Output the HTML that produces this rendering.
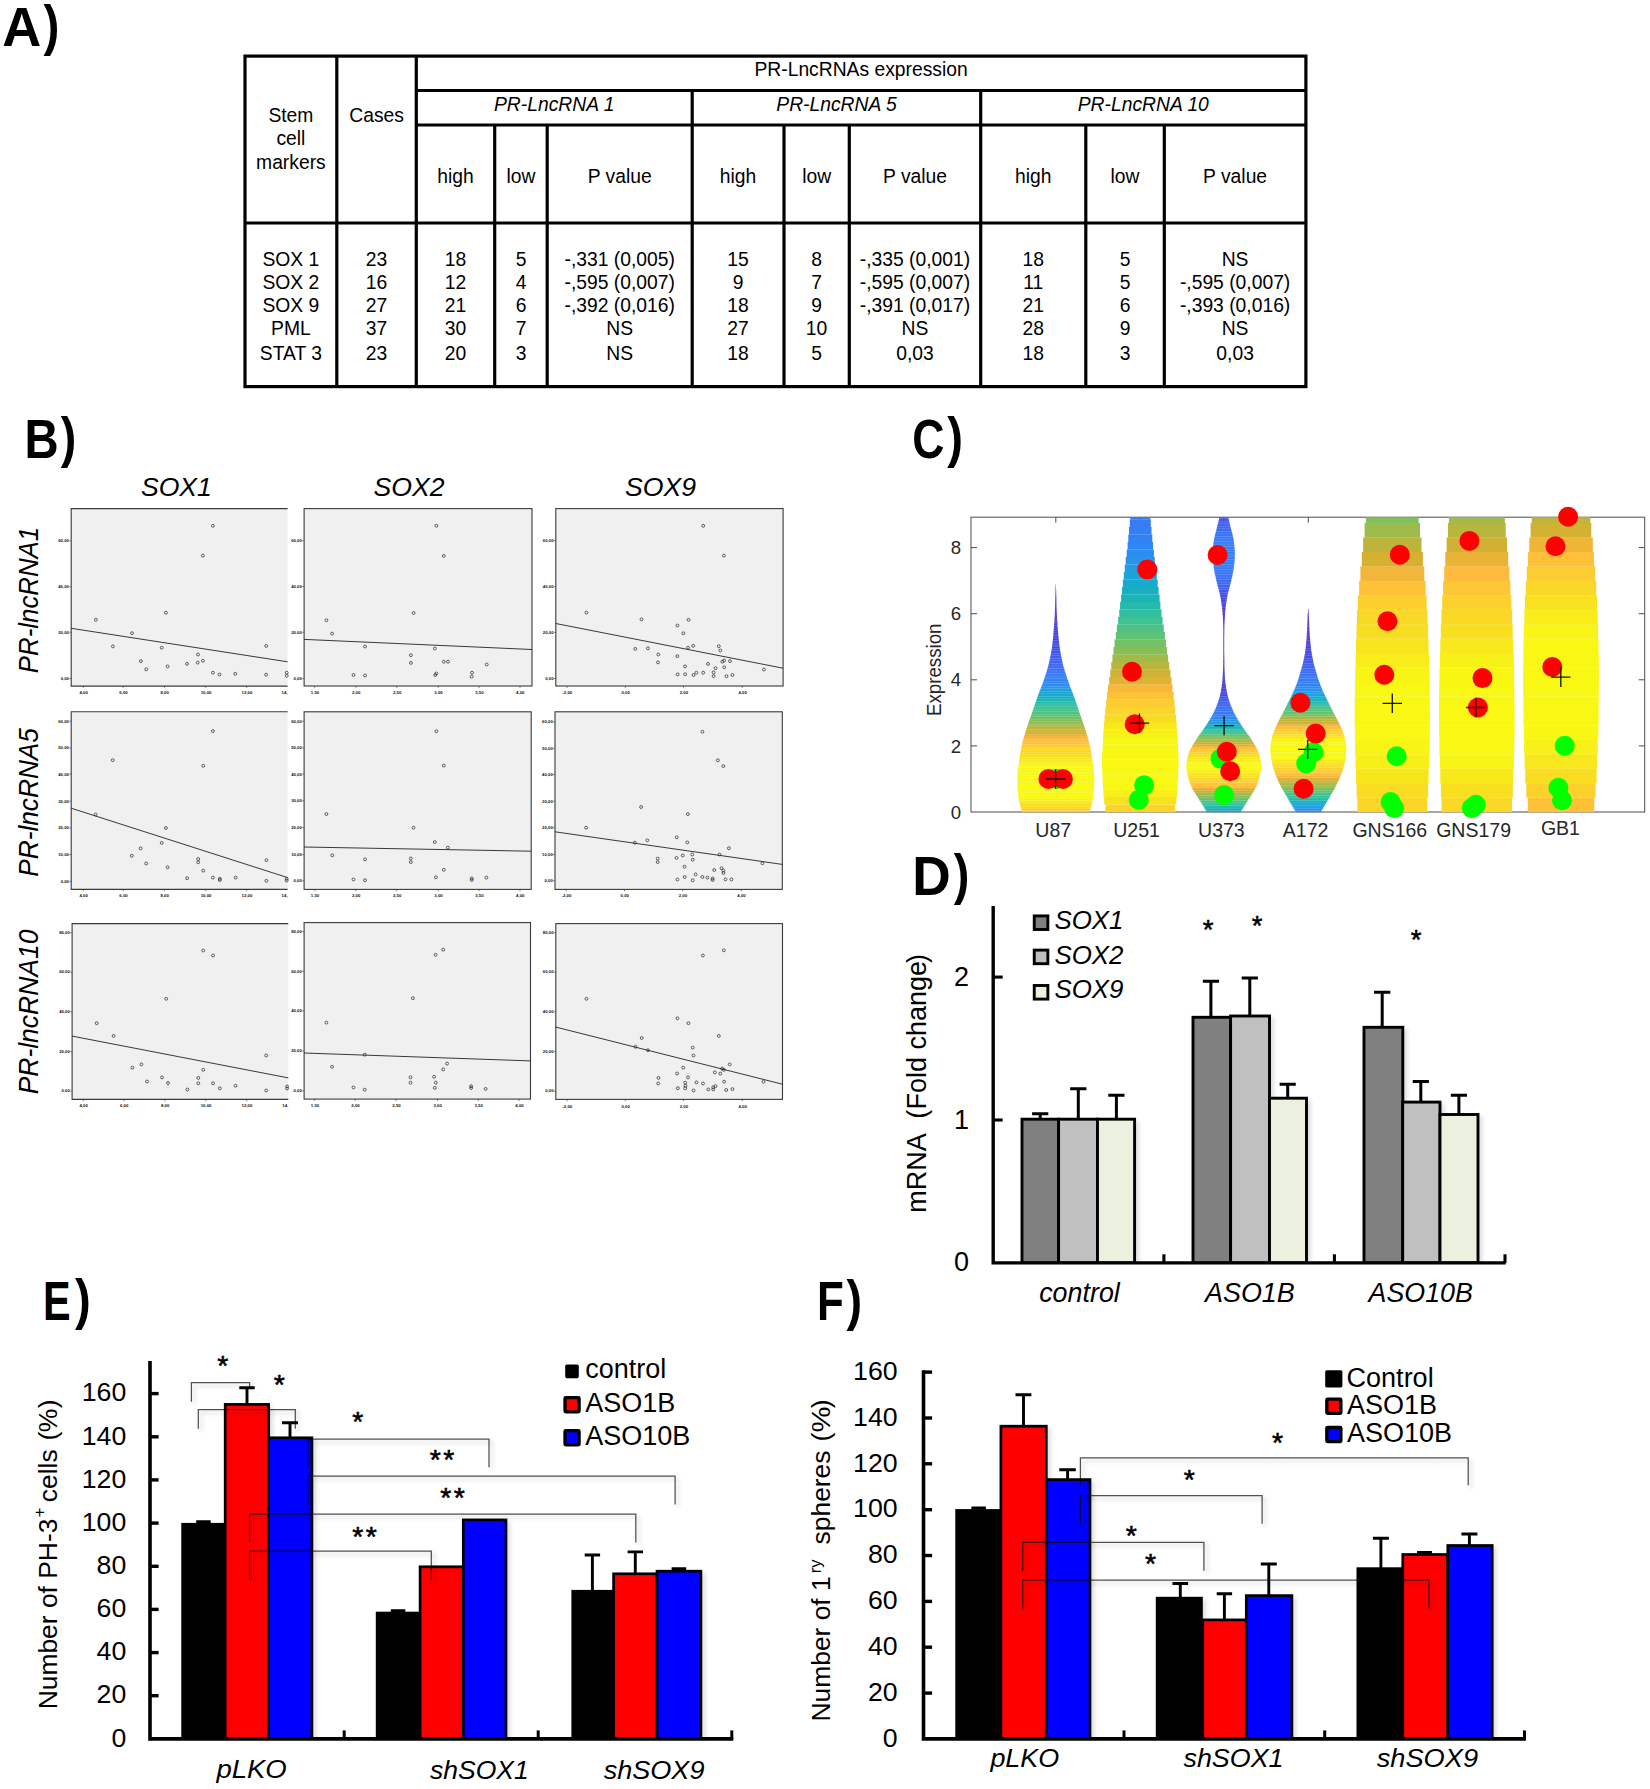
<!DOCTYPE html>
<html lang="en"><head><meta charset="utf-8"><title>Figure</title>
<style>html,body{margin:0;padding:0;background:#fff}svg{display:block}text{font-family:"Liberation Sans",sans-serif}</style></head><body>
<svg width="1650" height="1789" viewBox="0 0 1650 1789">
<rect width="1650" height="1789" fill="#fff"/>
<text font-size="55.0" font-weight="bold" transform="translate(2.25 45.5) scale(0.982 1)">A</text>
<text font-size="55.0" font-weight="bold" transform="translate(43.60 44.0) scale(0.867 1)">)</text>
<text font-size="55.0" font-weight="bold" transform="translate(24.43 457.6) scale(0.860 1)">B</text>
<text font-size="55.0" font-weight="bold" transform="translate(60.80 456.1) scale(0.848 1)">)</text>
<text font-size="55.0" font-weight="bold" transform="translate(912.27 457.9) scale(0.810 1)">C</text>
<text font-size="55.0" font-weight="bold" transform="translate(947.30 456.4) scale(0.861 1)">)</text>
<text font-size="55.0" font-weight="bold" transform="translate(912.33 894.5) scale(0.969 1)">D</text>
<text font-size="55.0" font-weight="bold" transform="translate(953.80 893.0) scale(0.854 1)">)</text>
<text font-size="55.0" font-weight="bold" transform="translate(43.12 1319.5) scale(0.753 1)">E</text>
<text font-size="55.0" font-weight="bold" transform="translate(75.00 1318.0) scale(0.861 1)">)</text>
<text font-size="55.0" font-weight="bold" transform="translate(816.96 1320.2) scale(0.798 1)">F</text>
<text font-size="55.0" font-weight="bold" transform="translate(846.50 1318.7) scale(0.854 1)">)</text>
<g id="tableA" stroke="#000" stroke-width="3.2" fill="none">
<rect x="245.0" y="56.1" width="1060.9" height="330.5"/>
<line x1="336.8" y1="56.1" x2="336.8" y2="386.6"/>
<line x1="416.3" y1="56.1" x2="416.3" y2="386.6"/>
<line x1="692.2" y1="90.5" x2="692.2" y2="386.6"/>
<line x1="980.7" y1="90.5" x2="980.7" y2="386.6"/>
<line x1="494.7" y1="125" x2="494.7" y2="386.6"/>
<line x1="547.2" y1="125" x2="547.2" y2="386.6"/>
<line x1="784.0" y1="125" x2="784.0" y2="386.6"/>
<line x1="849.3" y1="125" x2="849.3" y2="386.6"/>
<line x1="1085.8" y1="125" x2="1085.8" y2="386.6"/>
<line x1="1164.3" y1="125" x2="1164.3" y2="386.6"/>
<line x1="416.3" y1="90.5" x2="1305.9" y2="90.5"/>
<line x1="416.3" y1="125" x2="1305.9" y2="125"/>
<line x1="245.0" y1="223" x2="1305.9" y2="223"/>
</g>
<g id="tableText" font-size="19.3" text-anchor="middle">
<text x="290.9" y="121.9">Stem</text>
<text x="290.9" y="144.5">cell</text>
<text x="290.9" y="168.5">markers</text>
<text x="376.6" y="121.9">Cases</text>
<text x="861.1" y="75.9">PR-LncRNAs expression</text>
<text x="554.2" y="110.6" font-style="italic">PR-LncRNA 1</text>
<text x="836.5" y="110.6" font-style="italic">PR-LncRNA 5</text>
<text x="1143.3" y="110.6" font-style="italic">PR-LncRNA 10</text>
<text x="455.5" y="182.5">high</text>
<text x="521.0" y="182.5">low</text>
<text x="619.7" y="182.5">P value</text>
<text x="738.1" y="182.5">high</text>
<text x="816.6" y="182.5">low</text>
<text x="915.0" y="182.5">P value</text>
<text x="1033.2" y="182.5">high</text>
<text x="1125.0" y="182.5">low</text>
<text x="1235.1" y="182.5">P value</text>
<text x="290.9" y="265.6">SOX 1</text>
<text x="376.6" y="265.6">23</text>
<text x="455.5" y="265.6">18</text>
<text x="521.0" y="265.6">5</text>
<text x="619.7" y="265.6">-,331 (0,005)</text>
<text x="738.1" y="265.6">15</text>
<text x="816.6" y="265.6">8</text>
<text x="915.0" y="265.6">-,335 (0,001)</text>
<text x="1033.2" y="265.6">18</text>
<text x="1125.0" y="265.6">5</text>
<text x="1235.1" y="265.6">NS</text>
<text x="290.9" y="289.3">SOX 2</text>
<text x="376.6" y="289.3">16</text>
<text x="455.5" y="289.3">12</text>
<text x="521.0" y="289.3">4</text>
<text x="619.7" y="289.3">-,595 (0,007)</text>
<text x="738.1" y="289.3">9</text>
<text x="816.6" y="289.3">7</text>
<text x="915.0" y="289.3">-,595 (0,007)</text>
<text x="1033.2" y="289.3">11</text>
<text x="1125.0" y="289.3">5</text>
<text x="1235.1" y="289.3">-,595 (0,007)</text>
<text x="290.9" y="311.9">SOX 9</text>
<text x="376.6" y="311.9">27</text>
<text x="455.5" y="311.9">21</text>
<text x="521.0" y="311.9">6</text>
<text x="619.7" y="311.9">-,392 (0,016)</text>
<text x="738.1" y="311.9">18</text>
<text x="816.6" y="311.9">9</text>
<text x="915.0" y="311.9">-,391 (0,017)</text>
<text x="1033.2" y="311.9">21</text>
<text x="1125.0" y="311.9">6</text>
<text x="1235.1" y="311.9">-,393 (0,016)</text>
<text x="290.9" y="335.1">PML</text>
<text x="376.6" y="335.1">37</text>
<text x="455.5" y="335.1">30</text>
<text x="521.0" y="335.1">7</text>
<text x="619.7" y="335.1">NS</text>
<text x="738.1" y="335.1">27</text>
<text x="816.6" y="335.1">10</text>
<text x="915.0" y="335.1">NS</text>
<text x="1033.2" y="335.1">28</text>
<text x="1125.0" y="335.1">9</text>
<text x="1235.1" y="335.1">NS</text>
<text x="290.9" y="359.9">STAT 3</text>
<text x="376.6" y="359.9">23</text>
<text x="455.5" y="359.9">20</text>
<text x="521.0" y="359.9">3</text>
<text x="619.7" y="359.9">NS</text>
<text x="738.1" y="359.9">18</text>
<text x="816.6" y="359.9">5</text>
<text x="915.0" y="359.9">0,03</text>
<text x="1033.2" y="359.9">18</text>
<text x="1125.0" y="359.9">3</text>
<text x="1235.1" y="359.9">0,03</text>
</g>
<g id="panelB">
<rect x="71.2" y="508.6" width="216.4" height="177.4" fill="#f0f0f0"/>
<path d="M287.6 508.6H71.2V686.1H287.6" fill="none" stroke="#3a3a3a" stroke-width="1.1"/>
<line x1="71.2" y1="628.3" x2="287.6" y2="661.8" stroke="#222" stroke-width="0.9"/>
<g fill="none" stroke="#222" stroke-width="0.7">
<circle cx="212.9" cy="525.8" r="1.45"/>
<circle cx="202.9" cy="555.6" r="1.45"/>
<circle cx="165.9" cy="612.7" r="1.45"/>
<circle cx="95.9" cy="619.7" r="1.45"/>
<circle cx="132.0" cy="633.2" r="1.45"/>
<circle cx="112.9" cy="646.4" r="1.45"/>
<circle cx="161.7" cy="647.7" r="1.45"/>
<circle cx="266.2" cy="645.9" r="1.45"/>
<circle cx="198.0" cy="654.5" r="1.45"/>
<circle cx="140.9" cy="661.1" r="1.45"/>
<circle cx="202.9" cy="660.8" r="1.45"/>
<circle cx="197.7" cy="662.6" r="1.45"/>
<circle cx="187.0" cy="663.9" r="1.45"/>
<circle cx="167.6" cy="666.4" r="1.45"/>
<circle cx="146.2" cy="669.4" r="1.45"/>
<circle cx="212.9" cy="672.7" r="1.45"/>
<circle cx="219.5" cy="674.5" r="1.45"/>
<circle cx="235.2" cy="673.8" r="1.45"/>
<circle cx="266.1" cy="674.7" r="1.45"/>
<circle cx="286.7" cy="672.7" r="1.45"/>
<circle cx="286.7" cy="675.8" r="1.45"/>
</g>
<g font-size="4.3" font-weight="bold" fill="#111">
<line x1="69.4" y1="540.9" x2="71.2" y2="540.9" stroke="#333" stroke-width="0.6"/>
<text x="69.0" y="542.2" text-anchor="end">60,00</text>
<line x1="69.4" y1="586.8" x2="71.2" y2="586.8" stroke="#333" stroke-width="0.6"/>
<text x="69.0" y="588.1" text-anchor="end">40,00</text>
<line x1="69.4" y1="632.3" x2="71.2" y2="632.3" stroke="#333" stroke-width="0.6"/>
<text x="69.0" y="633.6" text-anchor="end">20,00</text>
<line x1="69.4" y1="678.5" x2="71.2" y2="678.5" stroke="#333" stroke-width="0.6"/>
<text x="69.0" y="679.8" text-anchor="end">0,00</text>
<line x1="83.3" y1="686.1" x2="83.3" y2="687.9" stroke="#333" stroke-width="0.6"/>
<text x="83.6" y="693.7" text-anchor="middle">4,00</text>
<line x1="123.2" y1="686.1" x2="123.2" y2="687.9" stroke="#333" stroke-width="0.6"/>
<text x="123.5" y="693.7" text-anchor="middle">6,00</text>
<line x1="164.4" y1="686.1" x2="164.4" y2="687.9" stroke="#333" stroke-width="0.6"/>
<text x="164.7" y="693.7" text-anchor="middle">8,00</text>
<line x1="205.8" y1="686.1" x2="205.8" y2="687.9" stroke="#333" stroke-width="0.6"/>
<text x="206.1" y="693.7" text-anchor="middle">10,00</text>
<line x1="246.7" y1="686.1" x2="246.7" y2="687.9" stroke="#333" stroke-width="0.6"/>
<text x="247.0" y="693.7" text-anchor="middle">12,00</text>
<text x="287.6" y="693.7" text-anchor="end">14,</text>
</g>
<rect x="304.1" y="508.6" width="227.9" height="177.4" fill="#f0f0f0"/>
<rect x="304.1" y="508.6" width="227.9" height="177.4" fill="none" stroke="#3a3a3a" stroke-width="1.1"/>
<line x1="304.1" y1="639.4" x2="532.0" y2="649.5" stroke="#222" stroke-width="0.9"/>
<g fill="none" stroke="#222" stroke-width="0.7">
<circle cx="436.4" cy="525.8" r="1.45"/>
<circle cx="443.8" cy="555.9" r="1.45"/>
<circle cx="413.6" cy="613.0" r="1.45"/>
<circle cx="326.4" cy="620.3" r="1.45"/>
<circle cx="332.1" cy="633.6" r="1.45"/>
<circle cx="365.0" cy="646.5" r="1.45"/>
<circle cx="434.8" cy="648.5" r="1.45"/>
<circle cx="410.9" cy="655.2" r="1.45"/>
<circle cx="443.8" cy="661.7" r="1.45"/>
<circle cx="448.0" cy="661.7" r="1.45"/>
<circle cx="410.9" cy="662.9" r="1.45"/>
<circle cx="486.7" cy="664.5" r="1.45"/>
<circle cx="353.5" cy="675.0" r="1.45"/>
<circle cx="365.0" cy="675.5" r="1.45"/>
<circle cx="436.4" cy="673.5" r="1.45"/>
<circle cx="435.2" cy="675.0" r="1.45"/>
<circle cx="472.0" cy="672.7" r="1.45"/>
<circle cx="471.7" cy="676.7" r="1.45"/>
</g>
<g font-size="4.3" font-weight="bold" fill="#111">
<line x1="302.3" y1="540.6" x2="304.1" y2="540.6" stroke="#333" stroke-width="0.6"/>
<text x="301.9" y="541.9" text-anchor="end">60,00</text>
<line x1="302.3" y1="586.4" x2="304.1" y2="586.4" stroke="#333" stroke-width="0.6"/>
<text x="301.9" y="587.7" text-anchor="end">40,00</text>
<line x1="302.3" y1="632.3" x2="304.1" y2="632.3" stroke="#333" stroke-width="0.6"/>
<text x="301.9" y="633.6" text-anchor="end">20,00</text>
<line x1="302.3" y1="678.5" x2="304.1" y2="678.5" stroke="#333" stroke-width="0.6"/>
<text x="301.9" y="679.8" text-anchor="end">0,00</text>
<line x1="314.7" y1="686.1" x2="314.7" y2="687.9" stroke="#333" stroke-width="0.6"/>
<text x="315.0" y="694.0" text-anchor="middle">1,50</text>
<line x1="355.9" y1="686.1" x2="355.9" y2="687.9" stroke="#333" stroke-width="0.6"/>
<text x="356.2" y="694.0" text-anchor="middle">2,00</text>
<line x1="396.8" y1="686.1" x2="396.8" y2="687.9" stroke="#333" stroke-width="0.6"/>
<text x="397.1" y="694.0" text-anchor="middle">2,50</text>
<line x1="438.2" y1="686.1" x2="438.2" y2="687.9" stroke="#333" stroke-width="0.6"/>
<text x="438.5" y="694.0" text-anchor="middle">3,00</text>
<line x1="479.1" y1="686.1" x2="479.1" y2="687.9" stroke="#333" stroke-width="0.6"/>
<text x="479.4" y="694.0" text-anchor="middle">3,50</text>
<line x1="520.0" y1="686.1" x2="520.0" y2="687.9" stroke="#333" stroke-width="0.6"/>
<text x="520.3" y="694.0" text-anchor="middle">4,00</text>
</g>
<rect x="555.8" y="508.6" width="227.3" height="177.4" fill="#f0f0f0"/>
<rect x="555.8" y="508.6" width="227.3" height="177.4" fill="none" stroke="#3a3a3a" stroke-width="1.1"/>
<line x1="555.8" y1="623.5" x2="783.0" y2="668.2" stroke="#222" stroke-width="0.9"/>
<g fill="none" stroke="#222" stroke-width="0.7">
<circle cx="703.2" cy="525.8" r="1.45"/>
<circle cx="723.9" cy="555.6" r="1.45"/>
<circle cx="586.4" cy="612.6" r="1.45"/>
<circle cx="641.5" cy="619.4" r="1.45"/>
<circle cx="688.6" cy="619.8" r="1.45"/>
<circle cx="677.4" cy="625.5" r="1.45"/>
<circle cx="683.3" cy="633.3" r="1.45"/>
<circle cx="693.2" cy="645.8" r="1.45"/>
<circle cx="718.8" cy="646.2" r="1.45"/>
<circle cx="688.0" cy="647.7" r="1.45"/>
<circle cx="635.3" cy="648.9" r="1.45"/>
<circle cx="647.9" cy="648.3" r="1.45"/>
<circle cx="720.3" cy="650.5" r="1.45"/>
<circle cx="658.3" cy="654.5" r="1.45"/>
<circle cx="677.3" cy="656.1" r="1.45"/>
<circle cx="724.1" cy="660.6" r="1.45"/>
<circle cx="722.3" cy="661.7" r="1.45"/>
<circle cx="730.0" cy="661.1" r="1.45"/>
<circle cx="658.0" cy="662.4" r="1.45"/>
<circle cx="708.0" cy="663.9" r="1.45"/>
<circle cx="685.0" cy="666.4" r="1.45"/>
<circle cx="724.2" cy="667.3" r="1.45"/>
<circle cx="715.5" cy="668.2" r="1.45"/>
<circle cx="763.9" cy="669.5" r="1.45"/>
<circle cx="696.4" cy="672.7" r="1.45"/>
<circle cx="703.2" cy="672.7" r="1.45"/>
<circle cx="713.6" cy="672.4" r="1.45"/>
<circle cx="677.7" cy="674.4" r="1.45"/>
<circle cx="685.2" cy="674.2" r="1.45"/>
<circle cx="693.5" cy="675.0" r="1.45"/>
<circle cx="713.6" cy="676.1" r="1.45"/>
<circle cx="726.5" cy="676.2" r="1.45"/>
<circle cx="732.4" cy="675.0" r="1.45"/>
</g>
<g font-size="4.3" font-weight="bold" fill="#111">
<line x1="554.0" y1="540.6" x2="555.8" y2="540.6" stroke="#333" stroke-width="0.6"/>
<text x="553.6" y="541.9" text-anchor="end">60,00</text>
<line x1="554.0" y1="586.7" x2="555.8" y2="586.7" stroke="#333" stroke-width="0.6"/>
<text x="553.6" y="588.0" text-anchor="end">40,00</text>
<line x1="554.0" y1="632.3" x2="555.8" y2="632.3" stroke="#333" stroke-width="0.6"/>
<text x="553.6" y="633.6" text-anchor="end">20,00</text>
<line x1="554.0" y1="678.5" x2="555.8" y2="678.5" stroke="#333" stroke-width="0.6"/>
<text x="553.6" y="679.8" text-anchor="end">0,00</text>
<line x1="567.0" y1="686.1" x2="567.0" y2="687.9" stroke="#333" stroke-width="0.6"/>
<text x="567.3" y="694.0" text-anchor="middle">-2,00</text>
<line x1="625.3" y1="686.1" x2="625.3" y2="687.9" stroke="#333" stroke-width="0.6"/>
<text x="625.6" y="694.0" text-anchor="middle">0,00</text>
<line x1="683.6" y1="686.1" x2="683.6" y2="687.9" stroke="#333" stroke-width="0.6"/>
<text x="683.9" y="694.0" text-anchor="middle">2,00</text>
<line x1="742.3" y1="686.1" x2="742.3" y2="687.9" stroke="#333" stroke-width="0.6"/>
<text x="742.6" y="694.0" text-anchor="middle">4,00</text>
</g>
<rect x="71.2" y="711.8" width="216.4" height="177.6" fill="#f0f0f0"/>
<path d="M287.6 711.8H71.2V889.4H287.6" fill="none" stroke="#3a3a3a" stroke-width="1.1"/>
<line x1="71.2" y1="808.2" x2="287.6" y2="877.6" stroke="#222" stroke-width="0.9"/>
<g fill="none" stroke="#222" stroke-width="0.7">
<circle cx="212.9" cy="731.1" r="1.45"/>
<circle cx="112.7" cy="760.2" r="1.45"/>
<circle cx="203.2" cy="765.8" r="1.45"/>
<circle cx="95.6" cy="814.5" r="1.45"/>
<circle cx="165.9" cy="828.0" r="1.45"/>
<circle cx="161.7" cy="842.9" r="1.45"/>
<circle cx="140.6" cy="848.3" r="1.45"/>
<circle cx="131.8" cy="855.8" r="1.45"/>
<circle cx="198.2" cy="859.1" r="1.45"/>
<circle cx="266.4" cy="860.2" r="1.45"/>
<circle cx="198.2" cy="862.3" r="1.45"/>
<circle cx="146.2" cy="863.5" r="1.45"/>
<circle cx="167.6" cy="867.3" r="1.45"/>
<circle cx="203.2" cy="870.6" r="1.45"/>
<circle cx="187.1" cy="878.2" r="1.45"/>
<circle cx="212.9" cy="877.6" r="1.45"/>
<circle cx="219.8" cy="878.8" r="1.45"/>
<circle cx="219.8" cy="880.0" r="1.45"/>
<circle cx="235.6" cy="877.6" r="1.45"/>
<circle cx="266.4" cy="880.8" r="1.45"/>
<circle cx="286.7" cy="878.8" r="1.45"/>
<circle cx="286.7" cy="880.6" r="1.45"/>
</g>
<g font-size="4.3" font-weight="bold" fill="#111">
<line x1="69.4" y1="721.2" x2="71.2" y2="721.2" stroke="#333" stroke-width="0.6"/>
<text x="69.0" y="722.5" text-anchor="end">60,00</text>
<line x1="69.4" y1="747.9" x2="71.2" y2="747.9" stroke="#333" stroke-width="0.6"/>
<text x="69.0" y="749.2" text-anchor="end">50,00</text>
<line x1="69.4" y1="774.2" x2="71.2" y2="774.2" stroke="#333" stroke-width="0.6"/>
<text x="69.0" y="775.5" text-anchor="end">40,00</text>
<line x1="69.4" y1="801.2" x2="71.2" y2="801.2" stroke="#333" stroke-width="0.6"/>
<text x="69.0" y="802.5" text-anchor="end">30,00</text>
<line x1="69.4" y1="828.0" x2="71.2" y2="828.0" stroke="#333" stroke-width="0.6"/>
<text x="69.0" y="829.3" text-anchor="end">20,00</text>
<line x1="69.4" y1="854.5" x2="71.2" y2="854.5" stroke="#333" stroke-width="0.6"/>
<text x="69.0" y="855.8" text-anchor="end">10,00</text>
<line x1="69.4" y1="881.4" x2="71.2" y2="881.4" stroke="#333" stroke-width="0.6"/>
<text x="69.0" y="882.7" text-anchor="end">0,00</text>
<line x1="83.3" y1="889.4" x2="83.3" y2="891.2" stroke="#333" stroke-width="0.6"/>
<text x="83.6" y="897.1" text-anchor="middle">4,00</text>
<line x1="123.2" y1="889.4" x2="123.2" y2="891.2" stroke="#333" stroke-width="0.6"/>
<text x="123.5" y="897.1" text-anchor="middle">6,00</text>
<line x1="164.4" y1="889.4" x2="164.4" y2="891.2" stroke="#333" stroke-width="0.6"/>
<text x="164.7" y="897.1" text-anchor="middle">8,00</text>
<line x1="205.8" y1="889.4" x2="205.8" y2="891.2" stroke="#333" stroke-width="0.6"/>
<text x="206.1" y="897.1" text-anchor="middle">10,00</text>
<line x1="246.7" y1="889.4" x2="246.7" y2="891.2" stroke="#333" stroke-width="0.6"/>
<text x="247.0" y="897.1" text-anchor="middle">12,00</text>
<text x="287.6" y="897.1" text-anchor="end">14,</text>
</g>
<rect x="304.1" y="711.8" width="227.1" height="177.6" fill="#f0f0f0"/>
<rect x="304.1" y="711.8" width="227.1" height="177.6" fill="none" stroke="#3a3a3a" stroke-width="1.1"/>
<line x1="304.1" y1="847.0" x2="531.2" y2="851.2" stroke="#222" stroke-width="0.9"/>
<g fill="none" stroke="#222" stroke-width="0.7">
<circle cx="436.4" cy="731.2" r="1.45"/>
<circle cx="443.8" cy="765.6" r="1.45"/>
<circle cx="326.4" cy="814.1" r="1.45"/>
<circle cx="413.5" cy="827.7" r="1.45"/>
<circle cx="434.8" cy="842.1" r="1.45"/>
<circle cx="447.9" cy="847.7" r="1.45"/>
<circle cx="332.3" cy="855.3" r="1.45"/>
<circle cx="365.0" cy="859.4" r="1.45"/>
<circle cx="410.8" cy="858.5" r="1.45"/>
<circle cx="410.8" cy="862.1" r="1.45"/>
<circle cx="443.8" cy="869.8" r="1.45"/>
<circle cx="353.5" cy="879.4" r="1.45"/>
<circle cx="365.0" cy="880.2" r="1.45"/>
<circle cx="435.9" cy="877.3" r="1.45"/>
<circle cx="471.7" cy="878.5" r="1.45"/>
<circle cx="471.7" cy="880.0" r="1.45"/>
<circle cx="486.4" cy="877.6" r="1.45"/>
</g>
<g font-size="4.3" font-weight="bold" fill="#111">
<line x1="302.3" y1="721.2" x2="304.1" y2="721.2" stroke="#333" stroke-width="0.6"/>
<text x="301.9" y="722.5" text-anchor="end">60,00</text>
<line x1="302.3" y1="747.9" x2="304.1" y2="747.9" stroke="#333" stroke-width="0.6"/>
<text x="301.9" y="749.2" text-anchor="end">50,00</text>
<line x1="302.3" y1="774.2" x2="304.1" y2="774.2" stroke="#333" stroke-width="0.6"/>
<text x="301.9" y="775.5" text-anchor="end">40,00</text>
<line x1="302.3" y1="800.8" x2="304.1" y2="800.8" stroke="#333" stroke-width="0.6"/>
<text x="301.9" y="802.1" text-anchor="end">30,00</text>
<line x1="302.3" y1="827.7" x2="304.1" y2="827.7" stroke="#333" stroke-width="0.6"/>
<text x="301.9" y="829.0" text-anchor="end">20,00</text>
<line x1="302.3" y1="854.5" x2="304.1" y2="854.5" stroke="#333" stroke-width="0.6"/>
<text x="301.9" y="855.8" text-anchor="end">10,00</text>
<line x1="302.3" y1="880.8" x2="304.1" y2="880.8" stroke="#333" stroke-width="0.6"/>
<text x="301.9" y="882.1" text-anchor="end">0,00</text>
<line x1="314.7" y1="889.4" x2="314.7" y2="891.2" stroke="#333" stroke-width="0.6"/>
<text x="315.0" y="897.1" text-anchor="middle">1,50</text>
<line x1="355.9" y1="889.4" x2="355.9" y2="891.2" stroke="#333" stroke-width="0.6"/>
<text x="356.2" y="897.1" text-anchor="middle">2,00</text>
<line x1="396.8" y1="889.4" x2="396.8" y2="891.2" stroke="#333" stroke-width="0.6"/>
<text x="397.1" y="897.1" text-anchor="middle">2,50</text>
<line x1="438.2" y1="889.4" x2="438.2" y2="891.2" stroke="#333" stroke-width="0.6"/>
<text x="438.5" y="897.1" text-anchor="middle">3,00</text>
<line x1="479.1" y1="889.4" x2="479.1" y2="891.2" stroke="#333" stroke-width="0.6"/>
<text x="479.4" y="897.1" text-anchor="middle">3,50</text>
<line x1="520.0" y1="889.4" x2="520.0" y2="891.2" stroke="#333" stroke-width="0.6"/>
<text x="520.3" y="897.1" text-anchor="middle">4,00</text>
</g>
<rect x="555.0" y="711.8" width="227.3" height="177.6" fill="#f0f0f0"/>
<rect x="555.0" y="711.8" width="227.3" height="177.6" fill="none" stroke="#3a3a3a" stroke-width="1.1"/>
<line x1="555.0" y1="831.8" x2="782.3" y2="864.4" stroke="#222" stroke-width="0.9"/>
<g fill="none" stroke="#222" stroke-width="0.7">
<circle cx="702.4" cy="731.7" r="1.45"/>
<circle cx="717.9" cy="760.3" r="1.45"/>
<circle cx="723.3" cy="766.1" r="1.45"/>
<circle cx="641.1" cy="807.0" r="1.45"/>
<circle cx="687.9" cy="814.1" r="1.45"/>
<circle cx="586.1" cy="827.7" r="1.45"/>
<circle cx="676.8" cy="837.3" r="1.45"/>
<circle cx="647.3" cy="840.3" r="1.45"/>
<circle cx="687.3" cy="842.4" r="1.45"/>
<circle cx="634.8" cy="842.7" r="1.45"/>
<circle cx="728.9" cy="848.2" r="1.45"/>
<circle cx="692.3" cy="854.5" r="1.45"/>
<circle cx="719.5" cy="854.5" r="1.45"/>
<circle cx="682.7" cy="855.5" r="1.45"/>
<circle cx="676.5" cy="857.9" r="1.45"/>
<circle cx="657.7" cy="858.6" r="1.45"/>
<circle cx="692.7" cy="859.7" r="1.45"/>
<circle cx="657.7" cy="862.1" r="1.45"/>
<circle cx="762.4" cy="863.3" r="1.45"/>
<circle cx="684.5" cy="866.7" r="1.45"/>
<circle cx="721.5" cy="868.2" r="1.45"/>
<circle cx="714.2" cy="870.0" r="1.45"/>
<circle cx="723.3" cy="870.5" r="1.45"/>
<circle cx="723.5" cy="873.0" r="1.45"/>
<circle cx="695.6" cy="874.4" r="1.45"/>
<circle cx="684.7" cy="877.0" r="1.45"/>
<circle cx="702.4" cy="877.0" r="1.45"/>
<circle cx="707.4" cy="877.6" r="1.45"/>
<circle cx="712.6" cy="878.5" r="1.45"/>
<circle cx="712.6" cy="880.0" r="1.45"/>
<circle cx="677.4" cy="879.5" r="1.45"/>
<circle cx="692.7" cy="880.3" r="1.45"/>
<circle cx="725.5" cy="879.4" r="1.45"/>
<circle cx="731.5" cy="879.4" r="1.45"/>
</g>
<g font-size="4.3" font-weight="bold" fill="#111">
<line x1="553.2" y1="722.1" x2="555.0" y2="722.1" stroke="#333" stroke-width="0.6"/>
<text x="552.8" y="723.4" text-anchor="end">60,00</text>
<line x1="553.2" y1="748.2" x2="555.0" y2="748.2" stroke="#333" stroke-width="0.6"/>
<text x="552.8" y="749.5" text-anchor="end">50,00</text>
<line x1="553.2" y1="774.5" x2="555.0" y2="774.5" stroke="#333" stroke-width="0.6"/>
<text x="552.8" y="775.8" text-anchor="end">40,00</text>
<line x1="553.2" y1="801.2" x2="555.0" y2="801.2" stroke="#333" stroke-width="0.6"/>
<text x="552.8" y="802.5" text-anchor="end">30,00</text>
<line x1="553.2" y1="827.7" x2="555.0" y2="827.7" stroke="#333" stroke-width="0.6"/>
<text x="552.8" y="829.0" text-anchor="end">20,00</text>
<line x1="553.2" y1="854.5" x2="555.0" y2="854.5" stroke="#333" stroke-width="0.6"/>
<text x="552.8" y="855.8" text-anchor="end">10,00</text>
<line x1="553.2" y1="880.8" x2="555.0" y2="880.8" stroke="#333" stroke-width="0.6"/>
<text x="552.8" y="882.1" text-anchor="end">0,00</text>
<line x1="566.2" y1="889.4" x2="566.2" y2="891.2" stroke="#333" stroke-width="0.6"/>
<text x="566.5" y="897.1" text-anchor="middle">-2,00</text>
<line x1="624.5" y1="889.4" x2="624.5" y2="891.2" stroke="#333" stroke-width="0.6"/>
<text x="624.8" y="897.1" text-anchor="middle">0,00</text>
<line x1="682.6" y1="889.4" x2="682.6" y2="891.2" stroke="#333" stroke-width="0.6"/>
<text x="682.9" y="897.1" text-anchor="middle">2,00</text>
<line x1="741.2" y1="889.4" x2="741.2" y2="891.2" stroke="#333" stroke-width="0.6"/>
<text x="741.5" y="897.1" text-anchor="middle">4,00</text>
</g>
<rect x="72.1" y="923.6" width="216.2" height="175.8" fill="#f0f0f0"/>
<path d="M288.3 923.6H72.1V1099.4H288.3" fill="none" stroke="#3a3a3a" stroke-width="1.1"/>
<line x1="72.1" y1="1036.1" x2="288.3" y2="1077.9" stroke="#222" stroke-width="0.9"/>
<g fill="none" stroke="#222" stroke-width="0.7">
<circle cx="203.2" cy="950.5" r="1.45"/>
<circle cx="213.0" cy="955.5" r="1.45"/>
<circle cx="166.2" cy="998.8" r="1.45"/>
<circle cx="96.7" cy="1023.2" r="1.45"/>
<circle cx="113.6" cy="1035.9" r="1.45"/>
<circle cx="266.2" cy="1055.5" r="1.45"/>
<circle cx="141.4" cy="1064.4" r="1.45"/>
<circle cx="132.4" cy="1067.6" r="1.45"/>
<circle cx="203.2" cy="1069.8" r="1.45"/>
<circle cx="162.0" cy="1077.4" r="1.45"/>
<circle cx="198.3" cy="1077.9" r="1.45"/>
<circle cx="147.0" cy="1081.5" r="1.45"/>
<circle cx="168.0" cy="1083.0" r="1.45"/>
<circle cx="198.3" cy="1083.3" r="1.45"/>
<circle cx="213.0" cy="1083.3" r="1.45"/>
<circle cx="235.5" cy="1085.8" r="1.45"/>
<circle cx="219.8" cy="1088.3" r="1.45"/>
<circle cx="187.4" cy="1089.5" r="1.45"/>
<circle cx="266.2" cy="1090.5" r="1.45"/>
<circle cx="287.1" cy="1086.5" r="1.45"/>
<circle cx="287.1" cy="1088.5" r="1.45"/>
</g>
<g font-size="4.3" font-weight="bold" fill="#111">
<line x1="70.3" y1="932.7" x2="72.1" y2="932.7" stroke="#333" stroke-width="0.6"/>
<text x="69.9" y="934.0" text-anchor="end">80,00</text>
<line x1="70.3" y1="972.1" x2="72.1" y2="972.1" stroke="#333" stroke-width="0.6"/>
<text x="69.9" y="973.4" text-anchor="end">60,00</text>
<line x1="70.3" y1="1011.8" x2="72.1" y2="1011.8" stroke="#333" stroke-width="0.6"/>
<text x="69.9" y="1013.1" text-anchor="end">40,00</text>
<line x1="70.3" y1="1051.7" x2="72.1" y2="1051.7" stroke="#333" stroke-width="0.6"/>
<text x="69.9" y="1053.0" text-anchor="end">20,00</text>
<line x1="70.3" y1="1091.1" x2="72.1" y2="1091.1" stroke="#333" stroke-width="0.6"/>
<text x="69.9" y="1092.4" text-anchor="end">0,00</text>
<line x1="83.3" y1="1099.4" x2="83.3" y2="1101.2" stroke="#333" stroke-width="0.6"/>
<text x="83.6" y="1107.1" text-anchor="middle">4,00</text>
<line x1="123.9" y1="1099.4" x2="123.9" y2="1101.2" stroke="#333" stroke-width="0.6"/>
<text x="124.2" y="1107.1" text-anchor="middle">6,00</text>
<line x1="164.9" y1="1099.4" x2="164.9" y2="1101.2" stroke="#333" stroke-width="0.6"/>
<text x="165.2" y="1107.1" text-anchor="middle">8,00</text>
<line x1="205.8" y1="1099.4" x2="205.8" y2="1101.2" stroke="#333" stroke-width="0.6"/>
<text x="206.1" y="1107.1" text-anchor="middle">10,00</text>
<line x1="246.7" y1="1099.4" x2="246.7" y2="1101.2" stroke="#333" stroke-width="0.6"/>
<text x="247.0" y="1107.1" text-anchor="middle">12,00</text>
<text x="288.3" y="1107.1" text-anchor="end">14,</text>
</g>
<rect x="304.1" y="922.6" width="226.4" height="176.5" fill="#f0f0f0"/>
<rect x="304.1" y="922.6" width="226.4" height="176.5" fill="none" stroke="#3a3a3a" stroke-width="1.1"/>
<line x1="304.1" y1="1053.0" x2="530.5" y2="1060.9" stroke="#222" stroke-width="0.9"/>
<g fill="none" stroke="#222" stroke-width="0.7">
<circle cx="443.2" cy="949.7" r="1.45"/>
<circle cx="435.6" cy="954.8" r="1.45"/>
<circle cx="412.9" cy="998.2" r="1.45"/>
<circle cx="326.4" cy="1022.6" r="1.45"/>
<circle cx="364.7" cy="1054.7" r="1.45"/>
<circle cx="447.1" cy="1063.6" r="1.45"/>
<circle cx="332.1" cy="1066.8" r="1.45"/>
<circle cx="443.2" cy="1069.4" r="1.45"/>
<circle cx="410.5" cy="1077.3" r="1.45"/>
<circle cx="434.1" cy="1076.8" r="1.45"/>
<circle cx="410.5" cy="1082.7" r="1.45"/>
<circle cx="435.8" cy="1082.6" r="1.45"/>
<circle cx="353.5" cy="1087.4" r="1.45"/>
<circle cx="364.7" cy="1089.7" r="1.45"/>
<circle cx="434.8" cy="1087.9" r="1.45"/>
<circle cx="471.1" cy="1086.2" r="1.45"/>
<circle cx="471.1" cy="1088.0" r="1.45"/>
<circle cx="485.6" cy="1088.9" r="1.45"/>
</g>
<g font-size="4.3" font-weight="bold" fill="#111">
<line x1="302.3" y1="931.7" x2="304.1" y2="931.7" stroke="#333" stroke-width="0.6"/>
<text x="301.9" y="933.0" text-anchor="end">80,00</text>
<line x1="302.3" y1="971.4" x2="304.1" y2="971.4" stroke="#333" stroke-width="0.6"/>
<text x="301.9" y="972.7" text-anchor="end">60,00</text>
<line x1="302.3" y1="1010.8" x2="304.1" y2="1010.8" stroke="#333" stroke-width="0.6"/>
<text x="301.9" y="1012.1" text-anchor="end">40,00</text>
<line x1="302.3" y1="1050.9" x2="304.1" y2="1050.9" stroke="#333" stroke-width="0.6"/>
<text x="301.9" y="1052.2" text-anchor="end">20,00</text>
<line x1="302.3" y1="1090.8" x2="304.1" y2="1090.8" stroke="#333" stroke-width="0.6"/>
<text x="301.9" y="1092.1" text-anchor="end">0,00</text>
<line x1="314.7" y1="1099.1" x2="314.7" y2="1100.9" stroke="#333" stroke-width="0.6"/>
<text x="315.0" y="1106.8" text-anchor="middle">1,50</text>
<line x1="355.2" y1="1099.1" x2="355.2" y2="1100.9" stroke="#333" stroke-width="0.6"/>
<text x="355.5" y="1106.8" text-anchor="middle">2,00</text>
<line x1="396.2" y1="1099.1" x2="396.2" y2="1100.9" stroke="#333" stroke-width="0.6"/>
<text x="396.5" y="1106.8" text-anchor="middle">2,50</text>
<line x1="437.4" y1="1099.1" x2="437.4" y2="1100.9" stroke="#333" stroke-width="0.6"/>
<text x="437.7" y="1106.8" text-anchor="middle">3,00</text>
<line x1="478.3" y1="1099.1" x2="478.3" y2="1100.9" stroke="#333" stroke-width="0.6"/>
<text x="478.6" y="1106.8" text-anchor="middle">3,50</text>
<line x1="519.2" y1="1099.1" x2="519.2" y2="1100.9" stroke="#333" stroke-width="0.6"/>
<text x="519.5" y="1106.8" text-anchor="middle">4,00</text>
</g>
<rect x="555.8" y="923.6" width="226.7" height="175.8" fill="#f0f0f0"/>
<rect x="555.8" y="923.6" width="226.7" height="175.8" fill="none" stroke="#3a3a3a" stroke-width="1.1"/>
<line x1="555.8" y1="1027.1" x2="782.4" y2="1084.2" stroke="#222" stroke-width="0.9"/>
<g fill="none" stroke="#222" stroke-width="0.7">
<circle cx="723.8" cy="950.3" r="1.45"/>
<circle cx="702.9" cy="955.5" r="1.45"/>
<circle cx="586.5" cy="998.8" r="1.45"/>
<circle cx="677.4" cy="1018.3" r="1.45"/>
<circle cx="688.5" cy="1023.2" r="1.45"/>
<circle cx="718.8" cy="1035.9" r="1.45"/>
<circle cx="641.7" cy="1038.0" r="1.45"/>
<circle cx="692.7" cy="1047.6" r="1.45"/>
<circle cx="635.5" cy="1046.8" r="1.45"/>
<circle cx="647.9" cy="1050.2" r="1.45"/>
<circle cx="693.5" cy="1055.5" r="1.45"/>
<circle cx="729.7" cy="1064.4" r="1.45"/>
<circle cx="683.2" cy="1067.6" r="1.45"/>
<circle cx="722.1" cy="1068.6" r="1.45"/>
<circle cx="723.8" cy="1069.8" r="1.45"/>
<circle cx="714.8" cy="1072.4" r="1.45"/>
<circle cx="720.3" cy="1073.6" r="1.45"/>
<circle cx="677.1" cy="1073.5" r="1.45"/>
<circle cx="658.5" cy="1077.9" r="1.45"/>
<circle cx="688.0" cy="1077.4" r="1.45"/>
<circle cx="724.1" cy="1081.7" r="1.45"/>
<circle cx="763.5" cy="1081.7" r="1.45"/>
<circle cx="696.5" cy="1082.4" r="1.45"/>
<circle cx="658.2" cy="1083.5" r="1.45"/>
<circle cx="685.2" cy="1082.7" r="1.45"/>
<circle cx="703.0" cy="1083.5" r="1.45"/>
<circle cx="715.5" cy="1086.2" r="1.45"/>
<circle cx="713.2" cy="1087.3" r="1.45"/>
<circle cx="685.5" cy="1085.8" r="1.45"/>
<circle cx="677.9" cy="1088.2" r="1.45"/>
<circle cx="685.2" cy="1088.3" r="1.45"/>
<circle cx="708.3" cy="1089.4" r="1.45"/>
<circle cx="713.2" cy="1089.4" r="1.45"/>
<circle cx="693.5" cy="1090.5" r="1.45"/>
<circle cx="726.2" cy="1090.0" r="1.45"/>
<circle cx="732.4" cy="1089.1" r="1.45"/>
</g>
<g font-size="4.3" font-weight="bold" fill="#111">
<line x1="554.0" y1="932.7" x2="555.8" y2="932.7" stroke="#333" stroke-width="0.6"/>
<text x="553.6" y="934.0" text-anchor="end">80,00</text>
<line x1="554.0" y1="972.1" x2="555.8" y2="972.1" stroke="#333" stroke-width="0.6"/>
<text x="553.6" y="973.4" text-anchor="end">60,00</text>
<line x1="554.0" y1="1011.8" x2="555.8" y2="1011.8" stroke="#333" stroke-width="0.6"/>
<text x="553.6" y="1013.1" text-anchor="end">40,00</text>
<line x1="554.0" y1="1051.7" x2="555.8" y2="1051.7" stroke="#333" stroke-width="0.6"/>
<text x="553.6" y="1053.0" text-anchor="end">20,00</text>
<line x1="554.0" y1="1091.1" x2="555.8" y2="1091.1" stroke="#333" stroke-width="0.6"/>
<text x="553.6" y="1092.4" text-anchor="end">0,00</text>
<line x1="567.0" y1="1099.4" x2="567.0" y2="1101.2" stroke="#333" stroke-width="0.6"/>
<text x="567.3" y="1107.5" text-anchor="middle">-2,00</text>
<line x1="625.3" y1="1099.4" x2="625.3" y2="1101.2" stroke="#333" stroke-width="0.6"/>
<text x="625.6" y="1107.5" text-anchor="middle">0,00</text>
<line x1="683.6" y1="1099.4" x2="683.6" y2="1101.2" stroke="#333" stroke-width="0.6"/>
<text x="683.9" y="1107.5" text-anchor="middle">2,00</text>
<line x1="742.3" y1="1099.4" x2="742.3" y2="1101.2" stroke="#333" stroke-width="0.6"/>
<text x="742.6" y="1107.5" text-anchor="middle">4,00</text>
</g>
</g>
<text x="176.4" y="495.8" font-size="26.5" text-anchor="middle" font-style="italic" textLength="71.0" lengthAdjust="spacingAndGlyphs">SOX1</text>
<text x="409.0" y="495.8" font-size="26.5" text-anchor="middle" font-style="italic" textLength="71.0" lengthAdjust="spacingAndGlyphs">SOX2</text>
<text x="660.5" y="495.8" font-size="26.5" text-anchor="middle" font-style="italic" textLength="71.0" lengthAdjust="spacingAndGlyphs">SOX9</text>
<text x="38.0" y="600.0" font-size="27" text-anchor="middle" font-style="italic" textLength="146.4" lengthAdjust="spacingAndGlyphs" transform="rotate(-90 38.0 600.0)">PR-lncRNA1</text>
<text x="38.0" y="802.4" font-size="27" text-anchor="middle" font-style="italic" textLength="148.7" lengthAdjust="spacingAndGlyphs" transform="rotate(-90 38.0 802.4)">PR-lncRNA5</text>
<text x="38.0" y="1012.0" font-size="27" text-anchor="middle" font-style="italic" textLength="164.7" lengthAdjust="spacingAndGlyphs" transform="rotate(-90 38.0 1012.0)">PR-lncRNA10</text>
<g id="panelC">
<rect x="971.0" y="517.2" width="673.7" height="294.8" fill="#fff" stroke="#4d4d4d" stroke-width="1"/>
<g stroke="#4d4d4d" stroke-width="1">
<line x1="971.0" y1="745.9" x2="977.0" y2="745.9"/><line x1="1644.7" y1="745.9" x2="1638.7" y2="745.9"/>
<line x1="971.0" y1="679.8" x2="977.0" y2="679.8"/><line x1="1644.7" y1="679.8" x2="1638.7" y2="679.8"/>
<line x1="971.0" y1="613.7" x2="977.0" y2="613.7"/><line x1="1644.7" y1="613.7" x2="1638.7" y2="613.7"/>
<line x1="971.0" y1="547.6" x2="977.0" y2="547.6"/><line x1="1644.7" y1="547.6" x2="1638.7" y2="547.6"/>
</g>
<g stroke="#4d4d4d" stroke-width="1">
<line x1="1055.8" y1="517.2" x2="1055.8" y2="522.7"/>
<line x1="1140.3" y1="517.2" x2="1140.3" y2="522.7"/>
<line x1="1223.8" y1="517.2" x2="1223.8" y2="522.7"/>
<line x1="1308.3" y1="517.2" x2="1308.3" y2="522.7"/>
</g>
<g>
<rect x="1021.8" y="810.35" width="67.9" height="1.80" fill="#fdca32"/>
<rect x="1021.3" y="808.70" width="68.9" height="1.80" fill="#fcd02e"/>
<rect x="1020.9" y="807.05" width="69.9" height="1.80" fill="#fbd52a"/>
<rect x="1020.4" y="805.40" width="70.8" height="1.80" fill="#fada25"/>
<rect x="1020.0" y="803.75" width="71.7" height="1.80" fill="#f8de21"/>
<rect x="1019.6" y="802.10" width="72.5" height="1.80" fill="#f8e41e"/>
<rect x="1019.2" y="800.45" width="73.2" height="1.80" fill="#f8eb1b"/>
<rect x="1018.9" y="798.80" width="73.8" height="1.80" fill="#f8f118"/>
<rect x="1018.6" y="797.15" width="74.4" height="1.80" fill="#f8f515"/>
<rect x="1018.4" y="795.50" width="74.8" height="1.80" fill="#f8f814"/>
<rect x="1018.2" y="793.85" width="75.2" height="1.80" fill="#f8f814"/>
<rect x="1018.1" y="792.20" width="75.5" height="1.80" fill="#f8f814"/>
<rect x="1017.9" y="790.55" width="75.8" height="1.80" fill="#f8f814"/>
<rect x="1017.8" y="788.90" width="76.0" height="1.80" fill="#f8f814"/>
<rect x="1017.7" y="787.25" width="76.3" height="1.80" fill="#f8f814"/>
<rect x="1017.6" y="785.60" width="76.5" height="1.80" fill="#f8f814"/>
<rect x="1017.5" y="783.95" width="76.7" height="1.80" fill="#f8f814"/>
<rect x="1017.4" y="782.30" width="76.8" height="1.80" fill="#f8f814"/>
<rect x="1017.3" y="780.65" width="76.9" height="1.80" fill="#f8f814"/>
<rect x="1017.3" y="779.00" width="77.0" height="1.80" fill="#f8f814"/>
<rect x="1017.3" y="777.35" width="77.0" height="1.80" fill="#f8f814"/>
<rect x="1017.4" y="775.70" width="76.9" height="1.80" fill="#f8f814"/>
<rect x="1017.5" y="774.05" width="76.7" height="1.80" fill="#f8f814"/>
<rect x="1017.6" y="772.40" width="76.4" height="1.80" fill="#f8f814"/>
<rect x="1017.7" y="770.75" width="76.1" height="1.80" fill="#f8f814"/>
<rect x="1017.9" y="769.10" width="75.7" height="1.80" fill="#f8f814"/>
<rect x="1018.1" y="767.45" width="75.3" height="1.80" fill="#f8f814"/>
<rect x="1018.4" y="765.80" width="74.9" height="1.80" fill="#f8f814"/>
<rect x="1018.6" y="764.15" width="74.5" height="1.80" fill="#f8f615"/>
<rect x="1018.8" y="762.50" width="74.0" height="1.80" fill="#f8f217"/>
<rect x="1019.0" y="760.85" width="73.6" height="1.80" fill="#f8ee19"/>
<rect x="1019.2" y="759.20" width="73.2" height="1.80" fill="#f8ea1b"/>
<rect x="1019.4" y="757.55" width="72.7" height="1.80" fill="#f8e61d"/>
<rect x="1019.7" y="755.90" width="72.2" height="1.80" fill="#f8e21f"/>
<rect x="1020.0" y="754.25" width="71.7" height="1.80" fill="#f8de22"/>
<rect x="1020.2" y="752.60" width="71.1" height="1.80" fill="#f9db24"/>
<rect x="1020.5" y="750.95" width="70.5" height="1.80" fill="#fad827"/>
<rect x="1020.9" y="749.30" width="69.9" height="1.80" fill="#fbd52a"/>
<rect x="1021.2" y="747.65" width="69.3" height="1.80" fill="#fcd22d"/>
<rect x="1021.5" y="746.00" width="68.6" height="1.80" fill="#fcce2f"/>
<rect x="1021.9" y="744.35" width="67.9" height="1.80" fill="#fdca32"/>
<rect x="1022.2" y="742.70" width="67.1" height="1.80" fill="#fdc535"/>
<rect x="1022.6" y="741.05" width="66.3" height="1.80" fill="#fec038"/>
<rect x="1023.1" y="739.40" width="65.4" height="1.80" fill="#ffbb3b"/>
<rect x="1023.5" y="737.75" width="64.5" height="1.80" fill="#f9b83a"/>
<rect x="1024.0" y="736.10" width="63.6" height="1.80" fill="#f0b537"/>
<rect x="1024.5" y="734.45" width="62.6" height="1.80" fill="#e6b334"/>
<rect x="1025.0" y="732.80" width="61.6" height="1.80" fill="#dbb131"/>
<rect x="1025.5" y="731.15" width="60.6" height="1.80" fill="#d2b133"/>
<rect x="1026.0" y="729.50" width="59.6" height="1.80" fill="#c8b336"/>
<rect x="1026.5" y="727.85" width="58.6" height="1.80" fill="#beb53a"/>
<rect x="1027.0" y="726.20" width="57.5" height="1.80" fill="#b4b73e"/>
<rect x="1027.6" y="724.55" width="56.4" height="1.80" fill="#a9b944"/>
<rect x="1028.2" y="722.90" width="55.3" height="1.80" fill="#9cbb4b"/>
<rect x="1028.7" y="721.25" width="54.1" height="1.80" fill="#8fbd53"/>
<rect x="1029.3" y="719.60" width="53.0" height="1.80" fill="#82bf5a"/>
<rect x="1029.9" y="717.95" width="51.8" height="1.80" fill="#75c062"/>
<rect x="1030.5" y="716.30" width="50.6" height="1.80" fill="#6bc16a"/>
<rect x="1031.1" y="714.65" width="49.4" height="1.80" fill="#61c272"/>
<rect x="1031.7" y="713.00" width="48.3" height="1.80" fill="#57c37b"/>
<rect x="1032.2" y="711.35" width="47.1" height="1.80" fill="#4ec482"/>
<rect x="1032.8" y="709.70" width="46.0" height="1.80" fill="#47c389"/>
<rect x="1033.4" y="708.05" width="44.9" height="1.80" fill="#40c290"/>
<rect x="1033.9" y="706.40" width="43.8" height="1.80" fill="#3ac196"/>
<rect x="1034.5" y="704.75" width="42.6" height="1.80" fill="#33c09d"/>
<rect x="1035.0" y="703.10" width="41.5" height="1.80" fill="#2cbea4"/>
<rect x="1035.6" y="701.45" width="40.4" height="1.80" fill="#25bbab"/>
<rect x="1036.2" y="699.80" width="39.2" height="1.80" fill="#1eb7b2"/>
<rect x="1036.8" y="698.15" width="38.1" height="1.80" fill="#18b3b9"/>
<rect x="1037.3" y="696.50" width="36.9" height="1.80" fill="#18b0c0"/>
<rect x="1037.9" y="694.85" width="35.7" height="1.80" fill="#18adc7"/>
<rect x="1038.5" y="693.20" width="34.5" height="1.80" fill="#18a9ce"/>
<rect x="1039.2" y="691.55" width="33.3" height="1.80" fill="#1ba5d5"/>
<rect x="1039.8" y="689.90" width="32.0" height="1.80" fill="#20a0dc"/>
<rect x="1040.5" y="688.25" width="30.7" height="1.80" fill="#259be3"/>
<rect x="1041.1" y="686.60" width="29.4" height="1.80" fill="#2996e9"/>
<rect x="1041.7" y="684.95" width="28.1" height="1.80" fill="#2b91ed"/>
<rect x="1042.4" y="683.30" width="26.9" height="1.80" fill="#2d8cf0"/>
<rect x="1043.0" y="681.65" width="25.7" height="1.80" fill="#2e88f4"/>
<rect x="1043.6" y="680.00" width="24.5" height="1.80" fill="#3084f5"/>
<rect x="1044.1" y="678.35" width="23.4" height="1.80" fill="#3282f5"/>
<rect x="1044.7" y="676.70" width="22.3" height="1.80" fill="#337ff5"/>
<rect x="1045.2" y="675.05" width="21.2" height="1.80" fill="#357df5"/>
<rect x="1045.8" y="673.40" width="20.1" height="1.80" fill="#377af5"/>
<rect x="1046.3" y="671.75" width="19.0" height="1.80" fill="#3878f5"/>
<rect x="1046.8" y="670.10" width="18.0" height="1.80" fill="#3974f4"/>
<rect x="1047.3" y="668.45" width="17.0" height="1.80" fill="#3a71f4"/>
<rect x="1047.8" y="666.80" width="16.0" height="1.80" fill="#3b6ef3"/>
<rect x="1048.2" y="665.15" width="15.1" height="1.80" fill="#3c6bf2"/>
<rect x="1048.6" y="663.50" width="14.3" height="1.80" fill="#3d69f2"/>
<rect x="1049.0" y="661.85" width="13.5" height="1.80" fill="#3e66f1"/>
<rect x="1049.4" y="660.20" width="12.8" height="1.80" fill="#3f64f1"/>
<rect x="1049.8" y="658.55" width="12.1" height="1.80" fill="#3f62f0"/>
<rect x="1050.1" y="656.90" width="11.4" height="1.80" fill="#405ff0"/>
<rect x="1050.4" y="655.25" width="10.7" height="1.80" fill="#415cee"/>
<rect x="1050.8" y="653.60" width="10.1" height="1.80" fill="#425aec"/>
<rect x="1051.1" y="651.95" width="9.5" height="1.80" fill="#4357ea"/>
<rect x="1051.3" y="650.30" width="8.9" height="1.80" fill="#4454e8"/>
<rect x="1051.6" y="648.65" width="8.4" height="1.80" fill="#4552e7"/>
<rect x="1051.9" y="647.00" width="7.9" height="1.80" fill="#4550e5"/>
<rect x="1052.1" y="645.35" width="7.4" height="1.80" fill="#464ee4"/>
<rect x="1052.3" y="643.70" width="7.0" height="1.80" fill="#474ce3"/>
<rect x="1052.5" y="642.05" width="6.6" height="1.80" fill="#474ae2"/>
<rect x="1052.7" y="640.40" width="6.3" height="1.80" fill="#4849e0"/>
<rect x="1052.8" y="638.75" width="5.9" height="1.80" fill="#4847df"/>
<rect x="1053.0" y="637.10" width="5.6" height="1.80" fill="#4947de"/>
<rect x="1053.2" y="635.45" width="5.3" height="1.80" fill="#4946dd"/>
<rect x="1053.3" y="633.80" width="4.9" height="1.80" fill="#4a45db"/>
<rect x="1053.5" y="632.15" width="4.7" height="1.80" fill="#4a44da"/>
<rect x="1053.6" y="630.50" width="4.4" height="1.80" fill="#4a43d9"/>
<rect x="1053.7" y="628.85" width="4.1" height="1.80" fill="#4b43d8"/>
<rect x="1053.9" y="627.20" width="3.8" height="1.80" fill="#4b42d7"/>
<rect x="1054.0" y="625.55" width="3.6" height="1.80" fill="#4b41d6"/>
<rect x="1054.1" y="623.90" width="3.3" height="1.80" fill="#4c41d5"/>
<rect x="1054.3" y="622.25" width="3.1" height="1.80" fill="#4c40d4"/>
<rect x="1054.4" y="620.60" width="2.9" height="1.80" fill="#4c3fd3"/>
<rect x="1054.5" y="618.95" width="2.6" height="1.80" fill="#4d3fd2"/>
<rect x="1054.6" y="617.30" width="2.4" height="1.80" fill="#4d3ed2"/>
<rect x="1054.7" y="615.65" width="2.3" height="1.80" fill="#4d3ed1"/>
<rect x="1054.8" y="614.00" width="2.1" height="1.80" fill="#4d3dd0"/>
<rect x="1054.8" y="612.35" width="2.0" height="1.80" fill="#4d3dd0"/>
<rect x="1054.9" y="610.70" width="1.8" height="1.80" fill="#4e3dcf"/>
<rect x="1054.9" y="609.05" width="1.7" height="1.80" fill="#4e3ccf"/>
<rect x="1055.0" y="607.40" width="1.6" height="1.80" fill="#4e3cce"/>
<rect x="1055.0" y="605.75" width="1.5" height="1.80" fill="#4e3cce"/>
<rect x="1055.1" y="604.10" width="1.4" height="1.80" fill="#4e3cce"/>
<rect x="1055.1" y="602.45" width="1.3" height="1.80" fill="#4e3bcd"/>
<rect x="1055.2" y="600.80" width="1.2" height="1.80" fill="#4e3bcd"/>
<rect x="1055.2" y="599.15" width="1.2" height="1.80" fill="#4e3bcd"/>
<rect x="1055.3" y="597.50" width="1.1" height="1.80" fill="#4f3bcc"/>
<rect x="1055.3" y="595.85" width="1.0" height="1.80" fill="#4f3bcc"/>
<rect x="1055.4" y="594.20" width="0.9" height="1.80" fill="#4f3acb"/>
<rect x="1055.4" y="592.55" width="0.8" height="1.80" fill="#4f3acb"/>
<rect x="1055.5" y="590.90" width="0.7" height="1.80" fill="#4f3acb"/>
<rect x="1055.5" y="589.25" width="0.6" height="1.80" fill="#4f3aca"/>
<rect x="1055.5" y="587.60" width="0.5" height="1.80" fill="#4f39ca"/>
<rect x="1055.6" y="585.95" width="0.4" height="1.80" fill="#4f39ca"/>
<rect x="1055.6" y="584.30" width="0.3" height="1.80" fill="#5039c9"/>
</g>
<g>
<rect x="1105.5" y="804.50" width="69.7" height="7.65" fill="#fbd42b"/>
<rect x="1104.2" y="797.00" width="72.2" height="7.65" fill="#f8e21f"/>
<rect x="1103.4" y="789.50" width="73.8" height="7.65" fill="#f8f018"/>
<rect x="1102.9" y="782.00" width="74.7" height="7.65" fill="#f8f814"/>
<rect x="1102.6" y="774.50" width="75.5" height="7.65" fill="#f8f814"/>
<rect x="1102.2" y="767.00" width="76.2" height="7.65" fill="#f8f814"/>
<rect x="1102.0" y="759.50" width="76.6" height="7.65" fill="#f8f814"/>
<rect x="1102.1" y="752.00" width="76.3" height="7.65" fill="#f8f814"/>
<rect x="1102.5" y="744.50" width="75.6" height="7.65" fill="#f8f814"/>
<rect x="1102.9" y="737.00" width="74.9" height="7.65" fill="#f8f814"/>
<rect x="1103.3" y="729.50" width="73.9" height="7.65" fill="#f8f117"/>
<rect x="1103.9" y="722.00" width="72.8" height="7.65" fill="#f8e71c"/>
<rect x="1104.6" y="714.50" width="71.5" height="7.65" fill="#f9dd22"/>
<rect x="1105.3" y="707.00" width="70.0" height="7.65" fill="#fbd529"/>
<rect x="1106.1" y="699.50" width="68.4" height="7.65" fill="#fccd30"/>
<rect x="1107.0" y="692.00" width="66.7" height="7.65" fill="#fec236"/>
<rect x="1108.0" y="684.50" width="64.5" height="7.65" fill="#f9b83a"/>
<rect x="1109.2" y="677.00" width="62.3" height="7.65" fill="#e2b233"/>
<rect x="1110.3" y="669.50" width="60.1" height="7.65" fill="#cdb234"/>
<rect x="1111.3" y="662.00" width="57.9" height="7.65" fill="#b8b63d"/>
<rect x="1112.4" y="654.50" width="55.7" height="7.65" fill="#a1ba48"/>
<rect x="1113.5" y="647.00" width="53.6" height="7.65" fill="#89be56"/>
<rect x="1114.6" y="639.50" width="51.4" height="7.65" fill="#72c165"/>
<rect x="1115.8" y="632.00" width="49.1" height="7.65" fill="#5ec375"/>
<rect x="1116.9" y="624.50" width="46.8" height="7.65" fill="#4cc384"/>
<rect x="1118.1" y="617.00" width="44.5" height="7.65" fill="#3ec292"/>
<rect x="1119.2" y="609.50" width="42.3" height="7.65" fill="#31c09f"/>
<rect x="1120.1" y="602.00" width="40.3" height="7.65" fill="#25baab"/>
<rect x="1121.1" y="594.50" width="38.5" height="7.65" fill="#19b5b7"/>
<rect x="1122.0" y="587.00" width="36.6" height="7.65" fill="#18afc1"/>
<rect x="1122.9" y="579.50" width="34.8" height="7.65" fill="#18aacc"/>
<rect x="1123.8" y="572.00" width="33.0" height="7.65" fill="#1ca4d6"/>
<rect x="1124.8" y="564.50" width="31.1" height="7.65" fill="#249ce1"/>
<rect x="1125.7" y="557.00" width="29.1" height="7.65" fill="#2995ea"/>
<rect x="1126.7" y="549.50" width="27.2" height="7.65" fill="#2c8df0"/>
<rect x="1127.6" y="542.00" width="25.4" height="7.65" fill="#2f86f5"/>
<rect x="1128.3" y="534.50" width="24.0" height="7.65" fill="#3183f5"/>
<rect x="1129.0" y="527.00" width="22.5" height="7.65" fill="#3380f5"/>
<rect x="1129.8" y="519.50" width="21.0" height="7.65" fill="#357cf5"/>
<rect x="1130.3" y="517.20" width="19.9" height="2.45" fill="#377af5"/>
</g>
<g>
<rect x="1206.4" y="810.35" width="34.8" height="1.80" fill="#18aacc"/>
<rect x="1205.4" y="808.70" width="36.7" height="1.80" fill="#18b0c1"/>
<rect x="1204.4" y="807.05" width="38.7" height="1.80" fill="#1bb5b5"/>
<rect x="1203.4" y="805.40" width="40.7" height="1.80" fill="#27bca9"/>
<rect x="1202.4" y="803.75" width="42.8" height="1.80" fill="#34c09c"/>
<rect x="1201.4" y="802.10" width="44.8" height="1.80" fill="#40c290"/>
<rect x="1200.3" y="800.45" width="46.9" height="1.80" fill="#4dc483"/>
<rect x="1199.2" y="798.80" width="49.1" height="1.80" fill="#5ec375"/>
<rect x="1198.2" y="797.15" width="51.3" height="1.80" fill="#71c166"/>
<rect x="1197.1" y="795.50" width="53.4" height="1.80" fill="#86be58"/>
<rect x="1196.1" y="793.85" width="55.4" height="1.80" fill="#9dbb4b"/>
<rect x="1195.1" y="792.20" width="57.4" height="1.80" fill="#b3b73f"/>
<rect x="1194.1" y="790.55" width="59.5" height="1.80" fill="#c7b337"/>
<rect x="1193.1" y="788.90" width="61.4" height="1.80" fill="#d9b030"/>
<rect x="1192.2" y="787.25" width="63.2" height="1.80" fill="#ebb436"/>
<rect x="1191.4" y="785.60" width="64.7" height="1.80" fill="#fbb83b"/>
<rect x="1190.7" y="783.95" width="66.2" height="1.80" fill="#fec038"/>
<rect x="1190.0" y="782.30" width="67.6" height="1.80" fill="#fdc833"/>
<rect x="1189.4" y="780.65" width="68.9" height="1.80" fill="#fcd02e"/>
<rect x="1188.8" y="779.00" width="69.9" height="1.80" fill="#fbd529"/>
<rect x="1188.4" y="777.35" width="70.8" height="1.80" fill="#fada26"/>
<rect x="1188.0" y="775.70" width="71.6" height="1.80" fill="#f9de22"/>
<rect x="1187.6" y="774.05" width="72.3" height="1.80" fill="#f8e31f"/>
<rect x="1187.3" y="772.40" width="73.0" height="1.80" fill="#f8e91b"/>
<rect x="1187.0" y="770.75" width="73.7" height="1.80" fill="#f8ef19"/>
<rect x="1186.7" y="769.10" width="74.2" height="1.80" fill="#f8f416"/>
<rect x="1186.5" y="767.45" width="74.6" height="1.80" fill="#f8f715"/>
<rect x="1186.4" y="765.80" width="74.8" height="1.80" fill="#f8f814"/>
<rect x="1186.4" y="764.15" width="74.8" height="1.80" fill="#f8f814"/>
<rect x="1186.5" y="762.50" width="74.6" height="1.80" fill="#f8f715"/>
<rect x="1186.7" y="760.85" width="74.1" height="1.80" fill="#f8f316"/>
<rect x="1187.0" y="759.20" width="73.6" height="1.80" fill="#f8ee19"/>
<rect x="1187.4" y="757.55" width="72.9" height="1.80" fill="#f8e81c"/>
<rect x="1187.7" y="755.90" width="72.1" height="1.80" fill="#f8e120"/>
<rect x="1188.2" y="754.25" width="71.3" height="1.80" fill="#f9dc23"/>
<rect x="1188.6" y="752.60" width="70.4" height="1.80" fill="#fad727"/>
<rect x="1189.2" y="750.95" width="69.1" height="1.80" fill="#fcd12d"/>
<rect x="1190.0" y="749.30" width="67.6" height="1.80" fill="#fdc833"/>
<rect x="1190.9" y="747.65" width="65.8" height="1.80" fill="#febd39"/>
<rect x="1191.8" y="746.00" width="64.0" height="1.80" fill="#f4b639"/>
<rect x="1192.7" y="744.35" width="62.2" height="1.80" fill="#e1b233"/>
<rect x="1193.6" y="742.70" width="60.3" height="1.80" fill="#cfb234"/>
<rect x="1194.6" y="741.05" width="58.3" height="1.80" fill="#bcb63b"/>
<rect x="1195.7" y="739.40" width="56.2" height="1.80" fill="#a6b946"/>
<rect x="1196.8" y="737.75" width="54.0" height="1.80" fill="#8ebd53"/>
<rect x="1197.9" y="736.10" width="51.8" height="1.80" fill="#76c062"/>
<rect x="1199.1" y="734.45" width="49.5" height="1.80" fill="#61c272"/>
<rect x="1200.3" y="732.80" width="47.0" height="1.80" fill="#4dc483"/>
<rect x="1201.5" y="731.15" width="44.5" height="1.80" fill="#3ec292"/>
<rect x="1202.7" y="729.50" width="42.1" height="1.80" fill="#30c0a0"/>
<rect x="1203.9" y="727.85" width="39.8" height="1.80" fill="#22b9ae"/>
<rect x="1205.0" y="726.20" width="37.6" height="1.80" fill="#18b2bc"/>
<rect x="1206.1" y="724.55" width="35.4" height="1.80" fill="#18acc8"/>
<rect x="1207.2" y="722.90" width="33.3" height="1.80" fill="#1ba5d5"/>
<rect x="1208.2" y="721.25" width="31.2" height="1.80" fill="#239de1"/>
<rect x="1209.2" y="719.60" width="29.2" height="1.80" fill="#2995ea"/>
<rect x="1210.2" y="717.95" width="27.2" height="1.80" fill="#2c8df0"/>
<rect x="1211.2" y="716.30" width="25.2" height="1.80" fill="#2f86f5"/>
<rect x="1212.1" y="714.65" width="23.4" height="1.80" fill="#3282f5"/>
<rect x="1213.0" y="713.00" width="21.6" height="1.80" fill="#347ef5"/>
<rect x="1213.8" y="711.35" width="19.9" height="1.80" fill="#377af5"/>
<rect x="1214.6" y="709.70" width="18.4" height="1.80" fill="#3976f4"/>
<rect x="1215.4" y="708.05" width="16.9" height="1.80" fill="#3a71f4"/>
<rect x="1216.1" y="706.40" width="15.5" height="1.80" fill="#3c6df3"/>
<rect x="1216.7" y="704.75" width="14.2" height="1.80" fill="#3d68f2"/>
<rect x="1217.3" y="703.10" width="12.9" height="1.80" fill="#3f64f1"/>
<rect x="1218.0" y="701.45" width="11.7" height="1.80" fill="#4061f0"/>
<rect x="1218.5" y="699.80" width="10.5" height="1.80" fill="#415ced"/>
<rect x="1219.1" y="698.15" width="9.5" height="1.80" fill="#4357ea"/>
<rect x="1219.5" y="696.50" width="8.5" height="1.80" fill="#4453e7"/>
<rect x="1220.0" y="694.85" width="7.7" height="1.80" fill="#464fe5"/>
<rect x="1220.3" y="693.20" width="7.0" height="1.80" fill="#474ce2"/>
<rect x="1220.7" y="691.55" width="6.3" height="1.80" fill="#4849e0"/>
<rect x="1221.0" y="689.90" width="5.7" height="1.80" fill="#4947de"/>
<rect x="1221.2" y="688.25" width="5.1" height="1.80" fill="#4945dc"/>
<rect x="1221.5" y="686.60" width="4.6" height="1.80" fill="#4a44da"/>
<rect x="1221.8" y="684.95" width="4.1" height="1.80" fill="#4b43d8"/>
<rect x="1222.0" y="683.30" width="3.6" height="1.80" fill="#4b41d6"/>
<rect x="1222.2" y="681.65" width="3.1" height="1.80" fill="#4c40d4"/>
<rect x="1222.4" y="680.00" width="2.8" height="1.80" fill="#4c3fd3"/>
<rect x="1222.5" y="678.35" width="2.5" height="1.80" fill="#4d3fd2"/>
<rect x="1222.6" y="676.70" width="2.3" height="1.80" fill="#4d3ed1"/>
<rect x="1222.7" y="675.05" width="2.1" height="1.80" fill="#4d3ed0"/>
<rect x="1222.8" y="673.40" width="1.9" height="1.80" fill="#4d3dd0"/>
<rect x="1222.9" y="671.75" width="1.8" height="1.80" fill="#4e3dcf"/>
<rect x="1223.0" y="670.10" width="1.6" height="1.80" fill="#4e3cce"/>
<rect x="1223.0" y="668.45" width="1.5" height="1.80" fill="#4e3cce"/>
<rect x="1223.1" y="666.80" width="1.4" height="1.80" fill="#4e3ccd"/>
<rect x="1223.1" y="665.15" width="1.3" height="1.80" fill="#4e3bcd"/>
<rect x="1223.2" y="663.50" width="1.2" height="1.80" fill="#4e3bcd"/>
<rect x="1223.2" y="661.85" width="1.2" height="1.80" fill="#4e3bcd"/>
<rect x="1223.2" y="660.20" width="1.1" height="1.80" fill="#4f3bcc"/>
<rect x="1223.3" y="658.55" width="1.1" height="1.80" fill="#4f3bcc"/>
<rect x="1223.3" y="656.90" width="1.0" height="1.80" fill="#4f3bcc"/>
<rect x="1223.3" y="655.25" width="1.0" height="1.80" fill="#4f3bcc"/>
<rect x="1223.3" y="653.60" width="1.0" height="1.80" fill="#4f3bcc"/>
<rect x="1223.3" y="651.95" width="0.9" height="1.80" fill="#4f3acc"/>
<rect x="1223.3" y="650.30" width="0.9" height="1.80" fill="#4f3acc"/>
<rect x="1223.3" y="648.65" width="0.9" height="1.80" fill="#4f3acc"/>
<rect x="1223.3" y="647.00" width="0.9" height="1.80" fill="#4f3acc"/>
<rect x="1223.3" y="645.35" width="0.9" height="1.80" fill="#4f3acc"/>
<rect x="1223.3" y="643.70" width="0.9" height="1.80" fill="#4f3acc"/>
<rect x="1223.3" y="642.05" width="0.9" height="1.80" fill="#4f3acc"/>
<rect x="1223.3" y="640.40" width="0.9" height="1.80" fill="#4f3acc"/>
<rect x="1223.3" y="638.75" width="0.9" height="1.80" fill="#4f3acc"/>
<rect x="1223.3" y="637.10" width="0.9" height="1.80" fill="#4f3acc"/>
<rect x="1223.3" y="635.45" width="0.9" height="1.80" fill="#4f3acc"/>
<rect x="1223.3" y="633.80" width="1.0" height="1.80" fill="#4f3acc"/>
<rect x="1223.3" y="632.15" width="1.0" height="1.80" fill="#4f3bcc"/>
<rect x="1223.3" y="630.50" width="1.0" height="1.80" fill="#4f3bcc"/>
<rect x="1223.3" y="628.85" width="1.0" height="1.80" fill="#4f3bcc"/>
<rect x="1223.3" y="627.20" width="1.1" height="1.80" fill="#4f3bcc"/>
<rect x="1223.2" y="625.55" width="1.1" height="1.80" fill="#4f3bcc"/>
<rect x="1223.2" y="623.90" width="1.2" height="1.80" fill="#4e3bcd"/>
<rect x="1223.1" y="622.25" width="1.4" height="1.80" fill="#4e3ccd"/>
<rect x="1223.0" y="620.60" width="1.5" height="1.80" fill="#4e3cce"/>
<rect x="1223.0" y="618.95" width="1.7" height="1.80" fill="#4e3ccf"/>
<rect x="1222.9" y="617.30" width="1.9" height="1.80" fill="#4e3dcf"/>
<rect x="1222.8" y="615.65" width="2.1" height="1.80" fill="#4d3dd0"/>
<rect x="1222.7" y="614.00" width="2.3" height="1.80" fill="#4d3ed1"/>
<rect x="1222.6" y="612.35" width="2.5" height="1.80" fill="#4d3ed2"/>
<rect x="1222.4" y="610.70" width="2.7" height="1.80" fill="#4c3fd3"/>
<rect x="1222.3" y="609.05" width="3.0" height="1.80" fill="#4c40d4"/>
<rect x="1222.1" y="607.40" width="3.4" height="1.80" fill="#4c41d5"/>
<rect x="1221.9" y="605.75" width="3.8" height="1.80" fill="#4b42d7"/>
<rect x="1221.7" y="604.10" width="4.2" height="1.80" fill="#4b43d8"/>
<rect x="1221.5" y="602.45" width="4.7" height="1.80" fill="#4a44da"/>
<rect x="1221.2" y="600.80" width="5.2" height="1.80" fill="#4945dc"/>
<rect x="1221.0" y="599.15" width="5.7" height="1.80" fill="#4947de"/>
<rect x="1220.7" y="597.50" width="6.2" height="1.80" fill="#4848e0"/>
<rect x="1220.4" y="595.85" width="6.8" height="1.80" fill="#474be2"/>
<rect x="1220.1" y="594.20" width="7.4" height="1.80" fill="#464ee4"/>
<rect x="1219.7" y="592.55" width="8.2" height="1.80" fill="#4551e6"/>
<rect x="1219.3" y="590.90" width="9.0" height="1.80" fill="#4455e9"/>
<rect x="1218.9" y="589.25" width="9.9" height="1.80" fill="#4259eb"/>
<rect x="1218.4" y="587.60" width="10.8" height="1.80" fill="#415dee"/>
<rect x="1218.0" y="585.95" width="11.7" height="1.80" fill="#4061f0"/>
<rect x="1217.5" y="584.30" width="12.6" height="1.80" fill="#3f63f1"/>
<rect x="1217.1" y="582.65" width="13.4" height="1.80" fill="#3e66f1"/>
<rect x="1216.7" y="581.00" width="14.3" height="1.80" fill="#3d69f2"/>
<rect x="1216.3" y="579.35" width="15.0" height="1.80" fill="#3c6bf2"/>
<rect x="1215.9" y="577.70" width="15.7" height="1.80" fill="#3c6df3"/>
<rect x="1215.6" y="576.05" width="16.5" height="1.80" fill="#3b70f3"/>
<rect x="1215.2" y="574.40" width="17.2" height="1.80" fill="#3a72f4"/>
<rect x="1214.8" y="572.75" width="17.9" height="1.80" fill="#3974f4"/>
<rect x="1214.5" y="571.10" width="18.6" height="1.80" fill="#3976f5"/>
<rect x="1214.2" y="569.45" width="19.2" height="1.80" fill="#3878f5"/>
<rect x="1214.0" y="567.80" width="19.7" height="1.80" fill="#3779f5"/>
<rect x="1213.7" y="566.15" width="20.1" height="1.80" fill="#377af5"/>
<rect x="1213.6" y="564.50" width="20.5" height="1.80" fill="#367bf5"/>
<rect x="1213.4" y="562.85" width="20.9" height="1.80" fill="#357cf5"/>
<rect x="1213.2" y="561.20" width="21.2" height="1.80" fill="#357df5"/>
<rect x="1213.0" y="559.55" width="21.6" height="1.80" fill="#347ef5"/>
<rect x="1212.9" y="557.90" width="21.8" height="1.80" fill="#347ef5"/>
<rect x="1212.8" y="556.25" width="22.0" height="1.80" fill="#347ff5"/>
<rect x="1212.7" y="554.60" width="22.2" height="1.80" fill="#347ff5"/>
<rect x="1212.7" y="552.95" width="22.2" height="1.80" fill="#347ff5"/>
<rect x="1212.7" y="551.30" width="22.1" height="1.80" fill="#347ff5"/>
<rect x="1212.8" y="549.65" width="22.0" height="1.80" fill="#347ef5"/>
<rect x="1212.9" y="548.00" width="21.7" height="1.80" fill="#347ef5"/>
<rect x="1213.1" y="546.35" width="21.4" height="1.80" fill="#357df5"/>
<rect x="1213.3" y="544.70" width="21.1" height="1.80" fill="#357cf5"/>
<rect x="1213.4" y="543.05" width="20.7" height="1.80" fill="#367cf5"/>
<rect x="1213.6" y="541.40" width="20.3" height="1.80" fill="#367bf5"/>
<rect x="1213.9" y="539.75" width="19.9" height="1.80" fill="#377af5"/>
<rect x="1214.1" y="538.10" width="19.4" height="1.80" fill="#3878f5"/>
<rect x="1214.5" y="536.45" width="18.7" height="1.80" fill="#3877f5"/>
<rect x="1214.8" y="534.80" width="17.9" height="1.80" fill="#3974f4"/>
<rect x="1215.3" y="533.15" width="17.1" height="1.80" fill="#3a71f4"/>
<rect x="1215.7" y="531.50" width="16.2" height="1.80" fill="#3b6ff3"/>
<rect x="1216.2" y="529.85" width="15.3" height="1.80" fill="#3c6cf2"/>
<rect x="1216.6" y="528.20" width="14.4" height="1.80" fill="#3d69f2"/>
<rect x="1217.0" y="526.55" width="13.6" height="1.80" fill="#3e67f1"/>
<rect x="1217.4" y="524.90" width="12.8" height="1.80" fill="#3f64f1"/>
<rect x="1217.8" y="523.25" width="12.0" height="1.80" fill="#3f62f0"/>
<rect x="1218.2" y="521.60" width="11.3" height="1.80" fill="#405fef"/>
<rect x="1218.6" y="519.95" width="10.5" height="1.80" fill="#425bed"/>
<rect x="1219.0" y="518.30" width="9.7" height="1.80" fill="#4358eb"/>
<rect x="1219.3" y="517.20" width="9.0" height="1.25" fill="#4455e9"/>
</g>
<g>
<rect x="1295.4" y="810.35" width="25.8" height="1.80" fill="#2e88f4"/>
<rect x="1294.4" y="808.70" width="27.7" height="1.80" fill="#2b90ee"/>
<rect x="1293.5" y="807.05" width="29.7" height="1.80" fill="#2897e9"/>
<rect x="1292.5" y="805.40" width="31.6" height="1.80" fill="#219fde"/>
<rect x="1291.5" y="803.75" width="33.6" height="1.80" fill="#1aa6d3"/>
<rect x="1290.5" y="802.10" width="35.6" height="1.80" fill="#18acc8"/>
<rect x="1289.5" y="800.45" width="37.5" height="1.80" fill="#18b2bc"/>
<rect x="1288.5" y="798.80" width="39.5" height="1.80" fill="#20b8b0"/>
<rect x="1287.6" y="797.15" width="41.5" height="1.80" fill="#2cbea4"/>
<rect x="1286.6" y="795.50" width="43.4" height="1.80" fill="#38c198"/>
<rect x="1285.6" y="793.85" width="45.3" height="1.80" fill="#43c28d"/>
<rect x="1284.7" y="792.20" width="47.3" height="1.80" fill="#4fc481"/>
<rect x="1283.7" y="790.55" width="49.2" height="1.80" fill="#5fc374"/>
<rect x="1282.8" y="788.90" width="51.1" height="1.80" fill="#6fc167"/>
<rect x="1281.9" y="787.25" width="52.9" height="1.80" fill="#81bf5b"/>
<rect x="1281.0" y="785.60" width="54.6" height="1.80" fill="#94bc50"/>
<rect x="1280.1" y="783.95" width="56.3" height="1.80" fill="#a7b945"/>
<rect x="1279.3" y="782.30" width="57.9" height="1.80" fill="#b8b63d"/>
<rect x="1278.5" y="780.65" width="59.5" height="1.80" fill="#c7b337"/>
<rect x="1277.8" y="779.00" width="61.0" height="1.80" fill="#d6b031"/>
<rect x="1277.1" y="777.35" width="62.5" height="1.80" fill="#e4b334"/>
<rect x="1276.4" y="775.70" width="63.8" height="1.80" fill="#f2b638"/>
<rect x="1275.7" y="774.05" width="65.2" height="1.80" fill="#ffb93c"/>
<rect x="1275.1" y="772.40" width="66.4" height="1.80" fill="#fec137"/>
<rect x="1274.5" y="770.75" width="67.6" height="1.80" fill="#fdc833"/>
<rect x="1274.0" y="769.10" width="68.7" height="1.80" fill="#fccf2f"/>
<rect x="1273.4" y="767.45" width="69.8" height="1.80" fill="#fbd42a"/>
<rect x="1272.9" y="765.80" width="70.8" height="1.80" fill="#fada26"/>
<rect x="1272.5" y="764.15" width="71.7" height="1.80" fill="#f8de21"/>
<rect x="1272.1" y="762.50" width="72.5" height="1.80" fill="#f8e41e"/>
<rect x="1271.8" y="760.85" width="73.1" height="1.80" fill="#f8e91b"/>
<rect x="1271.5" y="759.20" width="73.6" height="1.80" fill="#f8ef19"/>
<rect x="1271.2" y="757.55" width="74.2" height="1.80" fill="#f8f416"/>
<rect x="1270.9" y="755.90" width="74.7" height="1.80" fill="#f8f814"/>
<rect x="1270.7" y="754.25" width="75.2" height="1.80" fill="#f8f814"/>
<rect x="1270.5" y="752.60" width="75.5" height="1.80" fill="#f8f814"/>
<rect x="1270.4" y="750.95" width="75.8" height="1.80" fill="#f8f814"/>
<rect x="1270.3" y="749.30" width="76.0" height="1.80" fill="#f8f814"/>
<rect x="1270.3" y="747.65" width="76.0" height="1.80" fill="#f8f814"/>
<rect x="1270.4" y="746.00" width="75.8" height="1.80" fill="#f8f814"/>
<rect x="1270.6" y="744.35" width="75.5" height="1.80" fill="#f8f814"/>
<rect x="1270.8" y="742.70" width="75.0" height="1.80" fill="#f8f814"/>
<rect x="1271.1" y="741.05" width="74.5" height="1.80" fill="#f8f615"/>
<rect x="1271.4" y="739.40" width="73.8" height="1.80" fill="#f8f018"/>
<rect x="1271.7" y="737.75" width="73.2" height="1.80" fill="#f8eb1b"/>
<rect x="1272.1" y="736.10" width="72.5" height="1.80" fill="#f8e41e"/>
<rect x="1272.5" y="734.45" width="71.6" height="1.80" fill="#f9de22"/>
<rect x="1273.1" y="732.80" width="70.5" height="1.80" fill="#fad827"/>
<rect x="1273.7" y="731.15" width="69.3" height="1.80" fill="#fcd22d"/>
<rect x="1274.3" y="729.50" width="68.0" height="1.80" fill="#fdca32"/>
<rect x="1275.0" y="727.85" width="66.6" height="1.80" fill="#fec236"/>
<rect x="1275.7" y="726.20" width="65.2" height="1.80" fill="#ffba3c"/>
<rect x="1276.5" y="724.55" width="63.6" height="1.80" fill="#f0b637"/>
<rect x="1277.3" y="722.90" width="62.0" height="1.80" fill="#e0b232"/>
<rect x="1278.1" y="721.25" width="60.4" height="1.80" fill="#cfb233"/>
<rect x="1278.9" y="719.60" width="58.7" height="1.80" fill="#c0b53a"/>
<rect x="1279.8" y="717.95" width="57.0" height="1.80" fill="#afb841"/>
<rect x="1280.7" y="716.30" width="55.2" height="1.80" fill="#9bbb4c"/>
<rect x="1281.6" y="714.65" width="53.4" height="1.80" fill="#87be58"/>
<rect x="1282.5" y="713.00" width="51.6" height="1.80" fill="#74c063"/>
<rect x="1283.3" y="711.35" width="49.9" height="1.80" fill="#65c26f"/>
<rect x="1284.2" y="709.70" width="48.3" height="1.80" fill="#57c37b"/>
<rect x="1285.0" y="708.05" width="46.6" height="1.80" fill="#4bc385"/>
<rect x="1285.8" y="706.40" width="45.0" height="1.80" fill="#41c28f"/>
<rect x="1286.6" y="704.75" width="43.4" height="1.80" fill="#37c199"/>
<rect x="1287.4" y="703.10" width="41.7" height="1.80" fill="#2ebfa2"/>
<rect x="1288.3" y="701.45" width="40.1" height="1.80" fill="#23baad"/>
<rect x="1289.1" y="699.80" width="38.4" height="1.80" fill="#19b4b7"/>
<rect x="1289.9" y="698.15" width="36.8" height="1.80" fill="#18b0c1"/>
<rect x="1290.7" y="696.50" width="35.2" height="1.80" fill="#18abca"/>
<rect x="1291.5" y="694.85" width="33.6" height="1.80" fill="#1aa6d3"/>
<rect x="1292.3" y="693.20" width="32.0" height="1.80" fill="#20a0dc"/>
<rect x="1293.1" y="691.55" width="30.4" height="1.80" fill="#269ae5"/>
<rect x="1293.8" y="689.90" width="28.9" height="1.80" fill="#2994eb"/>
<rect x="1294.6" y="688.25" width="27.5" height="1.80" fill="#2c8fef"/>
<rect x="1295.3" y="686.60" width="26.1" height="1.80" fill="#2e89f3"/>
<rect x="1295.9" y="684.95" width="24.8" height="1.80" fill="#3085f5"/>
<rect x="1296.6" y="683.30" width="23.5" height="1.80" fill="#3282f5"/>
<rect x="1297.2" y="681.65" width="22.3" height="1.80" fill="#337ff5"/>
<rect x="1297.8" y="680.00" width="21.1" height="1.80" fill="#357cf5"/>
<rect x="1298.3" y="678.35" width="20.0" height="1.80" fill="#377af5"/>
<rect x="1298.8" y="676.70" width="18.9" height="1.80" fill="#3877f5"/>
<rect x="1299.3" y="675.05" width="17.9" height="1.80" fill="#3974f4"/>
<rect x="1299.8" y="673.40" width="17.0" height="1.80" fill="#3a71f4"/>
<rect x="1300.3" y="671.75" width="16.0" height="1.80" fill="#3b6ef3"/>
<rect x="1300.8" y="670.10" width="15.0" height="1.80" fill="#3c6bf2"/>
<rect x="1301.3" y="668.45" width="14.1" height="1.80" fill="#3d68f2"/>
<rect x="1301.7" y="666.80" width="13.1" height="1.80" fill="#3e65f1"/>
<rect x="1302.2" y="665.15" width="12.2" height="1.80" fill="#3f62f0"/>
<rect x="1302.6" y="663.50" width="11.3" height="1.80" fill="#405fef"/>
<rect x="1303.0" y="661.85" width="10.5" height="1.80" fill="#415ced"/>
<rect x="1303.4" y="660.20" width="9.8" height="1.80" fill="#4358eb"/>
<rect x="1303.8" y="658.55" width="9.1" height="1.80" fill="#4455e9"/>
<rect x="1304.1" y="656.90" width="8.4" height="1.80" fill="#4552e7"/>
<rect x="1304.4" y="655.25" width="7.8" height="1.80" fill="#464fe5"/>
<rect x="1304.7" y="653.60" width="7.2" height="1.80" fill="#464de3"/>
<rect x="1305.0" y="651.95" width="6.7" height="1.80" fill="#474ae2"/>
<rect x="1305.2" y="650.30" width="6.1" height="1.80" fill="#4848e0"/>
<rect x="1305.5" y="648.65" width="5.7" height="1.80" fill="#4947de"/>
<rect x="1305.7" y="647.00" width="5.2" height="1.80" fill="#4946dd"/>
<rect x="1305.9" y="645.35" width="4.9" height="1.80" fill="#4a45db"/>
<rect x="1306.0" y="643.70" width="4.5" height="1.80" fill="#4a44da"/>
<rect x="1306.2" y="642.05" width="4.2" height="1.80" fill="#4a43d9"/>
<rect x="1306.3" y="640.40" width="3.9" height="1.80" fill="#4b42d7"/>
<rect x="1306.5" y="638.75" width="3.7" height="1.80" fill="#4b42d6"/>
<rect x="1306.6" y="637.10" width="3.4" height="1.80" fill="#4c41d5"/>
<rect x="1306.7" y="635.45" width="3.2" height="1.80" fill="#4c40d4"/>
<rect x="1306.8" y="633.80" width="2.9" height="1.80" fill="#4c40d3"/>
<rect x="1306.9" y="632.15" width="2.7" height="1.80" fill="#4c3fd3"/>
<rect x="1307.0" y="630.50" width="2.5" height="1.80" fill="#4d3fd2"/>
<rect x="1307.1" y="628.85" width="2.3" height="1.80" fill="#4d3ed1"/>
<rect x="1307.2" y="627.20" width="2.2" height="1.80" fill="#4d3ed1"/>
<rect x="1307.3" y="625.55" width="2.0" height="1.80" fill="#4d3dd0"/>
<rect x="1307.3" y="623.90" width="1.9" height="1.80" fill="#4e3dcf"/>
<rect x="1307.4" y="622.25" width="1.8" height="1.80" fill="#4e3dcf"/>
<rect x="1307.5" y="620.60" width="1.7" height="1.80" fill="#4e3ccf"/>
<rect x="1307.5" y="618.95" width="1.5" height="1.80" fill="#4e3cce"/>
<rect x="1307.6" y="617.30" width="1.4" height="1.80" fill="#4e3cce"/>
<rect x="1307.7" y="615.65" width="1.3" height="1.80" fill="#4e3bcd"/>
<rect x="1307.7" y="614.00" width="1.1" height="1.80" fill="#4f3bcc"/>
<rect x="1307.8" y="612.35" width="0.9" height="1.80" fill="#4f3acc"/>
<rect x="1307.9" y="610.70" width="0.7" height="1.80" fill="#4f3acb"/>
<rect x="1308.1" y="609.05" width="0.5" height="1.80" fill="#4f39ca"/>
</g>
<g>
<rect x="1357.3" y="797.55" width="70.0" height="14.60" fill="#fbd629"/>
<rect x="1356.6" y="783.10" width="71.5" height="14.60" fill="#f9dd23"/>
<rect x="1356.0" y="768.65" width="72.6" height="14.60" fill="#f8e61d"/>
<rect x="1355.5" y="754.20" width="73.6" height="14.60" fill="#f8ef19"/>
<rect x="1355.1" y="739.75" width="74.4" height="14.60" fill="#f8f515"/>
<rect x="1354.9" y="725.30" width="74.9" height="14.60" fill="#f8f814"/>
<rect x="1354.7" y="710.85" width="75.2" height="14.60" fill="#f8f814"/>
<rect x="1354.7" y="696.40" width="75.1" height="14.60" fill="#f8f814"/>
<rect x="1354.9" y="681.95" width="74.7" height="14.60" fill="#f8f814"/>
<rect x="1355.2" y="667.50" width="74.2" height="14.60" fill="#f8f416"/>
<rect x="1355.6" y="653.05" width="73.4" height="14.60" fill="#f8ed1a"/>
<rect x="1356.0" y="638.60" width="72.5" height="14.60" fill="#f8e51e"/>
<rect x="1356.5" y="624.15" width="71.6" height="14.60" fill="#f8de22"/>
<rect x="1357.0" y="609.70" width="70.5" height="14.60" fill="#fad827"/>
<rect x="1357.9" y="595.25" width="68.8" height="14.60" fill="#fccf2e"/>
<rect x="1359.1" y="580.80" width="66.5" height="14.60" fill="#fec137"/>
<rect x="1360.4" y="566.35" width="63.9" height="14.60" fill="#f2b638"/>
<rect x="1361.8" y="551.90" width="61.1" height="14.60" fill="#d6b031"/>
<rect x="1363.1" y="537.45" width="58.4" height="14.60" fill="#bdb53b"/>
<rect x="1364.6" y="523.00" width="55.4" height="14.60" fill="#9dbb4b"/>
<rect x="1365.9" y="517.20" width="52.7" height="5.95" fill="#7fbf5c"/>
</g>
<g>
<rect x="1441.5" y="797.55" width="70.5" height="14.60" fill="#fad827"/>
<rect x="1440.9" y="783.10" width="71.9" height="14.60" fill="#f8df20"/>
<rect x="1440.3" y="768.65" width="73.0" height="14.60" fill="#f8e91b"/>
<rect x="1439.8" y="754.20" width="74.0" height="14.60" fill="#f8f217"/>
<rect x="1439.4" y="739.75" width="74.8" height="14.60" fill="#f8f814"/>
<rect x="1439.2" y="725.30" width="75.3" height="14.60" fill="#f8f814"/>
<rect x="1439.0" y="710.85" width="75.6" height="14.60" fill="#f8f814"/>
<rect x="1439.0" y="696.40" width="75.5" height="14.60" fill="#f8f814"/>
<rect x="1439.2" y="681.95" width="75.1" height="14.60" fill="#f8f814"/>
<rect x="1439.5" y="667.50" width="74.6" height="14.60" fill="#f8f714"/>
<rect x="1439.9" y="653.05" width="73.9" height="14.60" fill="#f8f118"/>
<rect x="1440.3" y="638.60" width="72.9" height="14.60" fill="#f8e81c"/>
<rect x="1440.8" y="624.15" width="71.9" height="14.60" fill="#f8e020"/>
<rect x="1441.4" y="609.70" width="70.7" height="14.60" fill="#fad926"/>
<rect x="1442.2" y="595.25" width="69.2" height="14.60" fill="#fcd12d"/>
<rect x="1443.2" y="580.80" width="67.2" height="14.60" fill="#fdc634"/>
<rect x="1444.2" y="566.35" width="65.2" height="14.60" fill="#ffb93c"/>
<rect x="1445.3" y="551.90" width="62.9" height="14.60" fill="#e9b435"/>
<rect x="1446.6" y="537.45" width="60.5" height="14.60" fill="#d1b133"/>
<rect x="1447.9" y="523.00" width="57.8" height="14.60" fill="#b7b73d"/>
<rect x="1448.9" y="517.20" width="55.9" height="5.95" fill="#a2ba48"/>
</g>
<g>
<rect x="1527.8" y="797.55" width="66.5" height="14.60" fill="#fec137"/>
<rect x="1526.3" y="783.10" width="69.3" height="14.60" fill="#fbd22c"/>
<rect x="1525.3" y="768.65" width="71.3" height="14.60" fill="#f9dd23"/>
<rect x="1524.6" y="754.20" width="72.7" height="14.60" fill="#f8e71d"/>
<rect x="1524.1" y="739.75" width="73.7" height="14.60" fill="#f8f018"/>
<rect x="1523.8" y="725.30" width="74.5" height="14.60" fill="#f8f615"/>
<rect x="1523.5" y="710.85" width="75.1" height="14.60" fill="#f8f814"/>
<rect x="1523.3" y="696.40" width="75.4" height="14.60" fill="#f8f814"/>
<rect x="1523.1" y="681.95" width="75.7" height="14.60" fill="#f8f814"/>
<rect x="1523.1" y="667.50" width="75.8" height="14.60" fill="#f8f814"/>
<rect x="1523.3" y="653.05" width="75.5" height="14.60" fill="#f8f814"/>
<rect x="1523.5" y="638.60" width="75.0" height="14.60" fill="#f8f814"/>
<rect x="1523.8" y="624.15" width="74.3" height="14.60" fill="#f8f516"/>
<rect x="1524.3" y="609.70" width="73.4" height="14.60" fill="#f8ed1a"/>
<rect x="1524.9" y="595.25" width="72.2" height="14.60" fill="#f8e11f"/>
<rect x="1525.8" y="580.80" width="70.4" height="14.60" fill="#fad827"/>
<rect x="1526.8" y="566.35" width="68.4" height="14.60" fill="#fccd30"/>
<rect x="1528.0" y="551.90" width="66.0" height="14.60" fill="#febf39"/>
<rect x="1529.3" y="537.45" width="63.5" height="14.60" fill="#eeb537"/>
<rect x="1530.6" y="523.00" width="60.7" height="14.60" fill="#d3b132"/>
<rect x="1531.7" y="517.20" width="58.7" height="5.95" fill="#bfb53a"/>
</g>
<g fill="#00ff00"><circle cx="1056.4" cy="779.0" r="10"/><circle cx="1144.1" cy="785.3" r="10"/><circle cx="1138.8" cy="799.8" r="10"/><circle cx="1220.5" cy="758.6" r="10"/><circle cx="1224.1" cy="795.0" r="10"/><circle cx="1313.5" cy="752.3" r="10"/><circle cx="1306.2" cy="763.5" r="10"/><circle cx="1396.7" cy="756.2" r="10"/><circle cx="1390.6" cy="802.0" r="10"/><circle cx="1394.2" cy="808.1" r="10"/><circle cx="1475.9" cy="804.7" r="10"/><circle cx="1471.8" cy="808.1" r="10"/><circle cx="1564.7" cy="745.8" r="10"/><circle cx="1558.4" cy="787.7" r="10"/><circle cx="1562.0" cy="800.3" r="10"/></g>
<g fill="#ff0000"><circle cx="1048.4" cy="779.0" r="10"/><circle cx="1062.9" cy="779.0" r="10"/><circle cx="1147.3" cy="569.5" r="10"/><circle cx="1132.0" cy="671.8" r="10"/><circle cx="1134.7" cy="724.2" r="10"/><circle cx="1217.6" cy="555.0" r="10"/><circle cx="1226.8" cy="751.8" r="10"/><circle cx="1230.2" cy="771.2" r="10"/><circle cx="1300.4" cy="702.8" r="10"/><circle cx="1315.7" cy="733.6" r="10"/><circle cx="1303.6" cy="788.7" r="10"/><circle cx="1399.8" cy="554.7" r="10"/><circle cx="1387.5" cy="621.2" r="10"/><circle cx="1384.3" cy="674.7" r="10"/><circle cx="1469.4" cy="540.9" r="10"/><circle cx="1482.5" cy="678.1" r="10"/><circle cx="1477.9" cy="707.5" r="10"/><circle cx="1568.1" cy="516.7" r="10"/><circle cx="1555.5" cy="546.2" r="10"/><circle cx="1552.3" cy="667.0" r="10"/></g>
<g stroke="#111" stroke-width="1.3"><path d="M1045.9 779.0h19.4M1055.6 769.3v19.4"/><path d="M1129.8 723.2h19.4M1139.5 713.5v19.4"/><path d="M1214.4 725.6h19.4M1224.1 715.9v19.4"/><path d="M1298.0 749.4h19.4M1307.7 739.7v19.4"/><path d="M1382.6 703.3h19.4M1392.3 693.6v19.4"/><path d="M1466.2 707.5h19.4M1475.9 697.8v19.4"/><path d="M1551.1 677.2h19.4M1560.8 667.5v19.4"/></g>
<g font-size="18.6" fill="#262626">
<text x="961" y="818.6" text-anchor="end">0</text>
<text x="961" y="752.5" text-anchor="end">2</text>
<text x="961" y="686.4" text-anchor="end">4</text>
<text x="961" y="620.3" text-anchor="end">6</text>
<text x="961" y="554.2" text-anchor="end">8</text>
<text x="1053.2" y="836.6" font-size="19.5" text-anchor="middle">U87</text>
<text x="1136.6" y="836.6" font-size="19.5" text-anchor="middle">U251</text>
<text x="1221.4" y="836.6" font-size="19.5" text-anchor="middle">U373</text>
<text x="1305.6" y="836.6" font-size="19.5" text-anchor="middle">A172</text>
<text x="1389.8" y="836.6" font-size="19.5" text-anchor="middle">GNS166</text>
<text x="1473.6" y="836.6" font-size="19.5" text-anchor="middle">GNS179</text>
<text x="1560.4" y="835.2" font-size="19.5" text-anchor="middle">GB1</text>
<text x="940.6" y="669.8" font-size="19.3" textLength="92.5" lengthAdjust="spacingAndGlyphs" text-anchor="middle" transform="rotate(-90 940.6 669.8)">Expression</text>
</g>
</g>
<g id="panelD">
<defs><filter id="sh" x="-10%" y="-10%" width="130%" height="130%"><feGaussianBlur in="SourceAlpha" stdDeviation="2"/><feOffset dx="3" dy="3"/><feComponentTransfer><feFuncA type="linear" slope="0.13"/></feComponentTransfer><feMerge><feMergeNode/><feMergeNode in="SourceGraphic"/></feMerge></filter><filter id="sh2" x="-5%" y="-20%" width="110%" height="160%"><feGaussianBlur in="SourceAlpha" stdDeviation="2.2"/><feOffset dx="2.5" dy="3"/><feComponentTransfer><feFuncA type="linear" slope="0.32"/></feComponentTransfer><feMerge><feMergeNode/><feMergeNode in="SourceGraphic"/></feMerge></filter></defs>
<clipPath id="cpD"><rect x="900" y="850" width="750" height="412.9"/></clipPath>
<g clip-path="url(#cpD)"><g filter="url(#sh)">
<rect x="1022.0" y="1119.2" width="36.6" height="143.7" fill="#808080" stroke="#000" stroke-width="2.9"/>
<rect x="1058.6" y="1119.2" width="38.9" height="143.7" fill="#c0c0c0" stroke="#000" stroke-width="2.9"/>
<rect x="1097.5" y="1119.2" width="37.1" height="143.7" fill="#ebf1de" stroke="#000" stroke-width="2.9"/>
<rect x="1193.0" y="1017.3" width="37.6" height="245.6" fill="#808080" stroke="#000" stroke-width="2.9"/>
<rect x="1230.6" y="1016.0" width="38.9" height="246.9" fill="#c0c0c0" stroke="#000" stroke-width="2.9"/>
<rect x="1269.5" y="1098.2" width="37.0" height="164.7" fill="#ebf1de" stroke="#000" stroke-width="2.9"/>
<rect x="1364.0" y="1027.3" width="38.8" height="235.6" fill="#808080" stroke="#000" stroke-width="2.9"/>
<rect x="1402.7" y="1102.1" width="37.3" height="160.8" fill="#c0c0c0" stroke="#000" stroke-width="2.9"/>
<rect x="1440.0" y="1114.5" width="38.0" height="148.4" fill="#ebf1de" stroke="#000" stroke-width="2.9"/>
</g></g>
<g stroke="#000" stroke-width="3" fill="none">
<path d="M1040.2 1119.2V1113.7M1032.1 1113.7h16.2"/>
<path d="M1078.3 1119.2V1088.7M1070.2 1088.7h16.2"/>
<path d="M1116.4 1119.2V1095.3M1108.3 1095.3h16.2"/>
<path d="M1210.9 1017.3V981.3M1202.8 981.3h16.2"/>
<path d="M1249.8 1016.0V977.9M1241.7 977.9h16.2"/>
<path d="M1287.7 1098.2V1084.2M1279.6 1084.2h16.2"/>
<path d="M1382.2 1027.3V992.3M1374.1 992.3h16.2"/>
<path d="M1420.8 1102.1V1081.6M1412.7 1081.6h16.2"/>
<path d="M1458.9 1114.5V1095.3M1450.8 1095.3h16.2"/>
</g>
<path d="M993.2 905.9V1262.9H1505.7" fill="none" stroke="#000" stroke-width="3.4"/>
<g stroke="#000" stroke-width="3.1">
<line x1="993.2" y1="1120.0" x2="1002.7" y2="1120.0"/>
<line x1="993.2" y1="977.1" x2="1002.7" y2="977.1"/>
<line x1="1163.9" y1="1262.9" x2="1163.9" y2="1254.3000000000002"/>
<line x1="1334.4" y1="1262.9" x2="1334.4" y2="1254.3000000000002"/>
<line x1="1505.0" y1="1262.9" x2="1505.0" y2="1254.3000000000002"/>
</g>
<text x="969.0" y="1271.4" font-size="27" text-anchor="end">0</text>
<text x="969.0" y="1128.5" font-size="27" text-anchor="end">1</text>
<text x="969.0" y="985.6" font-size="27" text-anchor="end">2</text>
<rect x="1034.25" y="915.9" width="13.6" height="13.6" fill="#808080" stroke="#000" stroke-width="2.9"/>
<text x="1054.5" y="928.8" font-size="25.5" font-style="italic" textLength="69.0" lengthAdjust="spacingAndGlyphs">SOX1</text>
<rect x="1034.25" y="950.1" width="13.6" height="13.6" fill="#c0c0c0" stroke="#000" stroke-width="2.9"/>
<text x="1054.5" y="963.5" font-size="25.5" font-style="italic" textLength="69.0" lengthAdjust="spacingAndGlyphs">SOX2</text>
<rect x="1034.25" y="985.5" width="13.6" height="13.6" fill="#ebf1de" stroke="#000" stroke-width="2.9"/>
<text x="1054.5" y="998.4" font-size="25.5" font-style="italic" textLength="69.0" lengthAdjust="spacingAndGlyphs">SOX9</text>
<text x="1208.0" y="939.0" font-size="27.5" text-anchor="middle" stroke="#000" stroke-width="0.5">*</text>
<text x="1257.2" y="935.2" font-size="27.5" text-anchor="middle" stroke="#000" stroke-width="0.5">*</text>
<text x="1416.0" y="949.4" font-size="27.5" text-anchor="middle" stroke="#000" stroke-width="0.5">*</text>
<text x="1079.5" y="1302.4" font-size="26.8" text-anchor="middle" font-style="italic" textLength="80.6" lengthAdjust="spacingAndGlyphs">control</text>
<text x="1249.9" y="1302.4" font-size="26.8" text-anchor="middle" font-style="italic" textLength="89.8" lengthAdjust="spacingAndGlyphs">ASO1B</text>
<text x="1420.7" y="1302.4" font-size="26.8" text-anchor="middle" font-style="italic" textLength="104.3" lengthAdjust="spacingAndGlyphs">ASO10B</text>
<text font-size="27" transform="translate(926.4 1212.8) rotate(-90)">mRNA</text>
<text font-size="27" transform="translate(926.4 1118.8) rotate(-90)">(</text>
<text font-size="27" transform="translate(926.4 1109.5) rotate(-90)">Fold change</text>
<text font-size="27" transform="translate(926.4 963.0) rotate(-90)">)</text>
</g>
<g id="panelE">
<clipPath id="cppanelE"><rect x="0" y="1300" width="1650" height="438.9"/></clipPath>
<g clip-path="url(#cppanelE)"><g filter="url(#sh)">
<rect x="181.3" y="1522.9" width="43.9" height="216.0" fill="#000"/>
<rect x="225.2" y="1404.4" width="43.4" height="334.5" fill="#ff0000" stroke="#000" stroke-width="2.7"/>
<rect x="268.6" y="1437.8" width="43.3" height="301.1" fill="#0000ff" stroke="#000" stroke-width="2.7"/>
<rect x="375.8" y="1611.7" width="44.3" height="127.2" fill="#000"/>
<rect x="420.1" y="1566.8" width="43.2" height="172.1" fill="#ff0000" stroke="#000" stroke-width="2.7"/>
<rect x="463.3" y="1519.9" width="42.7" height="219.0" fill="#0000ff" stroke="#000" stroke-width="2.7"/>
<rect x="571.4" y="1589.9" width="42.2" height="149.0" fill="#000"/>
<rect x="613.6" y="1573.8" width="43.4" height="165.1" fill="#ff0000" stroke="#000" stroke-width="2.7"/>
<rect x="657.0" y="1571.2" width="43.9" height="167.7" fill="#0000ff" stroke="#000" stroke-width="2.7"/>
</g></g>
<g stroke="#000" stroke-width="2.9" fill="none">
<path d="M203.5 1523.0V1521.6M196.2 1521.6h14.5"/>
<path d="M247.0 1404.0V1387.7M239.3 1387.7h15.4"/>
<path d="M290.0 1437.0V1422.7M282.0 1422.7h16.0"/>
<path d="M398.0 1612.0V1610.6M390.8 1610.6h14.5"/>
<path d="M592.4 1590.0V1555.0M584.7 1555.0h15.4"/>
<path d="M635.3 1573.0V1551.9M627.6 1551.9h15.4"/>
<path d="M678.9 1570.0V1568.6M671.6 1568.6h14.6"/>
</g>
<g stroke="#000" stroke-opacity="0.68" stroke-width="1.25" fill="none" filter="url(#sh2)">
<path d="M191.4 1401.8V1382.6H249.6V1388.6"/>
<path d="M198.3 1428.8V1409.5H295.3V1428.8"/>
<path d="M307.9 1467.3V1439.0H489.0V1467.3"/>
<path d="M307.9 1504.5V1476.2H675.1V1504.5"/>
<path d="M249.6 1542.4V1514.2H635.8V1542.4"/>
<path d="M249.6 1580.2V1551.2H431.3V1580.2"/>
</g>
<path d="M150.0 1360.9V1738.9H733.3" fill="none" stroke="#000" stroke-width="3.6"/>
<g stroke="#000" stroke-width="3.4">
<line x1="150.0" y1="1695.7" x2="158.6" y2="1695.7"/>
<line x1="150.0" y1="1652.6" x2="158.6" y2="1652.6"/>
<line x1="150.0" y1="1609.4" x2="158.6" y2="1609.4"/>
<line x1="150.0" y1="1566.3" x2="158.6" y2="1566.3"/>
<line x1="150.0" y1="1523.1" x2="158.6" y2="1523.1"/>
<line x1="150.0" y1="1479.9" x2="158.6" y2="1479.9"/>
<line x1="150.0" y1="1436.8" x2="158.6" y2="1436.8"/>
<line x1="150.0" y1="1393.6" x2="158.6" y2="1393.6"/>
</g><g stroke="#000" stroke-width="3">
<line x1="344.2" y1="1738.9" x2="344.2" y2="1730.4"/>
<line x1="538.2" y1="1738.9" x2="538.2" y2="1730.4"/>
<line x1="731.8" y1="1738.9" x2="731.8" y2="1730.4"/>
</g>
<text x="126.3" y="1746.6" font-size="26.7" text-anchor="end">0</text>
<text x="126.3" y="1703.4" font-size="26.7" text-anchor="end">20</text>
<text x="126.3" y="1660.3" font-size="26.7" text-anchor="end">40</text>
<text x="126.3" y="1617.1" font-size="26.7" text-anchor="end">60</text>
<text x="126.3" y="1574.0" font-size="26.7" text-anchor="end">80</text>
<text x="126.3" y="1530.8" font-size="26.7" text-anchor="end">100</text>
<text x="126.3" y="1487.6" font-size="26.7" text-anchor="end">120</text>
<text x="126.3" y="1444.5" font-size="26.7" text-anchor="end">140</text>
<text x="126.3" y="1401.3" font-size="26.7" text-anchor="end">160</text>
<text x="222.8" y="1374.8" font-size="28.5" text-anchor="middle" stroke="#000" stroke-width="0.55">*</text>
<text x="279.2" y="1393.7" font-size="28.5" text-anchor="middle" stroke="#000" stroke-width="0.55">*</text>
<text x="357.8" y="1431.0" font-size="28.5" text-anchor="middle" stroke="#000" stroke-width="0.55">*</text>
<text x="442.1" y="1469.0" font-size="28.5" text-anchor="middle" stroke="#000" stroke-width="0.55" textLength="24.6" lengthAdjust="spacing">**</text>
<text x="452.6" y="1507.3" font-size="28.5" text-anchor="middle" stroke="#000" stroke-width="0.55" textLength="24.6" lengthAdjust="spacing">**</text>
<text x="364.6" y="1545.8" font-size="28.5" text-anchor="middle" stroke="#000" stroke-width="0.55" textLength="24.6" lengthAdjust="spacing">**</text>
<rect x="565.2" y="1364.6" width="13.6" height="13.6" fill="#000" rx="1.6"/>
<text x="585.3" y="1378.0" font-size="27">control</text>
<rect x="565.0" y="1397.7" width="14.1" height="14.1" fill="#ff0000" stroke="#000" stroke-width="3.3" rx="0.8"/>
<text x="585.3" y="1411.6" font-size="27">ASO1B</text>
<rect x="565.0" y="1430.7" width="14.1" height="14.1" fill="#0000ff" stroke="#000" stroke-width="3.3" rx="0.8"/>
<text x="585.3" y="1444.7" font-size="27">ASO10B</text>
<text x="251.6" y="1778.4" font-size="26.6" text-anchor="middle" font-style="italic" textLength="70.4" lengthAdjust="spacingAndGlyphs">pLKO</text>
<text x="479.4" y="1779.0" font-size="26.6" text-anchor="middle" font-style="italic" textLength="98.8" lengthAdjust="spacingAndGlyphs">shSOX1</text>
<text x="654.1" y="1779.0" font-size="26.6" text-anchor="middle" font-style="italic" textLength="100.8" lengthAdjust="spacingAndGlyphs">shSOX9</text>
</g>
<g id="ylabE">
<text font-size="26.4" transform="translate(56.6 1709.3) rotate(-90)">Number of PH-3</text>
<text font-size="16.5" transform="translate(45.2 1517.3) rotate(-90)">+</text>
<text font-size="26.4" transform="translate(56.6 1502.2) rotate(-90)">cells</text>
<text font-size="26.6" transform="translate(56.6 1440.6) rotate(-90)">(</text>
<text font-size="26.6" transform="translate(56.6 1432.3) rotate(-90)">%</text>
<text font-size="26.6" transform="translate(56.6 1408.2) rotate(-90)">)</text>
</g>
<g id="panelF">
<clipPath id="cppanelF"><rect x="0" y="1300" width="1650" height="438.9"/></clipPath>
<g clip-path="url(#cppanelF)"><g filter="url(#sh)">
<rect x="955.3" y="1509.1" width="45.6" height="229.8" fill="#000"/>
<rect x="1000.9" y="1426.2" width="45.4" height="312.6" fill="#ff0000" stroke="#000" stroke-width="2.7"/>
<rect x="1046.3" y="1479.6" width="43.7" height="259.3" fill="#0000ff" stroke="#000" stroke-width="2.7"/>
<rect x="1155.8" y="1596.8" width="47.0" height="142.1" fill="#000"/>
<rect x="1202.8" y="1619.9" width="43.5" height="119.0" fill="#ff0000" stroke="#000" stroke-width="2.7"/>
<rect x="1246.3" y="1595.6" width="45.6" height="143.3" fill="#0000ff" stroke="#000" stroke-width="2.7"/>
<rect x="1356.5" y="1567.3" width="46.3" height="171.6" fill="#000"/>
<rect x="1402.8" y="1554.5" width="45.0" height="184.4" fill="#ff0000" stroke="#000" stroke-width="2.7"/>
<rect x="1447.8" y="1545.5" width="44.4" height="193.4" fill="#0000ff" stroke="#000" stroke-width="2.7"/>
</g></g>
<g stroke="#000" stroke-width="2.9" fill="none">
<path d="M978.6 1509.5V1508.0M971.4 1508.0h14.5"/>
<path d="M1023.5 1426.0V1394.7M1015.5 1394.7h15.9"/>
<path d="M1067.6 1479.0V1469.8M1059.3 1469.8h16.5"/>
<path d="M1180.3 1597.0V1583.5M1172.5 1583.5h15.6"/>
<path d="M1224.4 1619.5V1593.8M1216.7 1593.8h15.4"/>
<path d="M1268.8 1595.0V1564.0M1260.8 1564.0h16.0"/>
<path d="M1380.9 1568.0V1538.3M1372.9 1538.3h16.0"/>
<path d="M1424.5 1554.0V1552.4M1417.0 1552.4h15.0"/>
<path d="M1469.4 1545.0V1534.0M1461.4 1534.0h16.0"/>
</g>
<g stroke="#000" stroke-opacity="0.68" stroke-width="1.25" fill="none" filter="url(#sh2)">
<path d="M1080.4 1485.2V1457.8H1468.2V1485.2"/>
<path d="M1080.4 1523.7V1495.5H1262.1V1523.7"/>
<path d="M1022.7 1570.7V1542.4H1203.9V1570.7"/>
<path d="M1022.7 1608.4V1580.2H1428.9V1608.4"/>
</g>
<path d="M923.5 1370.3V1738.9H1525.9" fill="none" stroke="#000" stroke-width="3.6"/>
<g stroke="#000" stroke-width="3.4">
<line x1="923.5" y1="1693.1" x2="932.1" y2="1693.1"/>
<line x1="923.5" y1="1647.2" x2="932.1" y2="1647.2"/>
<line x1="923.5" y1="1601.4" x2="932.1" y2="1601.4"/>
<line x1="923.5" y1="1555.5" x2="932.1" y2="1555.5"/>
<line x1="923.5" y1="1509.7" x2="932.1" y2="1509.7"/>
<line x1="923.5" y1="1463.8" x2="932.1" y2="1463.8"/>
<line x1="923.5" y1="1418.0" x2="932.1" y2="1418.0"/>
<line x1="923.5" y1="1372.1" x2="932.1" y2="1372.1"/>
</g><g stroke="#000" stroke-width="3">
<line x1="1124.0" y1="1738.9" x2="1124.0" y2="1730.4"/>
<line x1="1324.7" y1="1738.9" x2="1324.7" y2="1730.4"/>
<line x1="1524.5" y1="1738.9" x2="1524.5" y2="1730.4"/>
</g>
<text x="897.6" y="1746.6" font-size="26.7" text-anchor="end">0</text>
<text x="897.6" y="1700.8" font-size="26.7" text-anchor="end">20</text>
<text x="897.6" y="1654.9" font-size="26.7" text-anchor="end">40</text>
<text x="897.6" y="1609.1" font-size="26.7" text-anchor="end">60</text>
<text x="897.6" y="1563.2" font-size="26.7" text-anchor="end">80</text>
<text x="897.6" y="1517.4" font-size="26.7" text-anchor="end">100</text>
<text x="897.6" y="1471.5" font-size="26.7" text-anchor="end">120</text>
<text x="897.6" y="1425.7" font-size="26.7" text-anchor="end">140</text>
<text x="897.6" y="1379.8" font-size="26.7" text-anchor="end">160</text>
<text x="1277.5" y="1451.7" font-size="28.5" text-anchor="middle" stroke="#000" stroke-width="0.55">*</text>
<text x="1189.3" y="1489.4" font-size="28.5" text-anchor="middle" stroke="#000" stroke-width="0.55">*</text>
<text x="1131.2" y="1545.3" font-size="28.5" text-anchor="middle" stroke="#000" stroke-width="0.55">*</text>
<text x="1150.5" y="1573.0" font-size="28.5" text-anchor="middle" stroke="#000" stroke-width="0.55">*</text>
<rect x="1325.2" y="1370.2" width="17.2" height="17.2" fill="#000" rx="1.6"/>
<text x="1346.6" y="1386.8" font-size="27">Control</text>
<rect x="1326.8" y="1399.2" width="14.1" height="14.1" fill="#ff0000" stroke="#000" stroke-width="3.3" rx="0.8"/>
<text x="1346.9" y="1413.9" font-size="27">ASO1B</text>
<rect x="1326.8" y="1427.5" width="14.1" height="14.1" fill="#0000ff" stroke="#000" stroke-width="3.3" rx="0.8"/>
<text x="1346.9" y="1441.6" font-size="27">ASO10B</text>
<text x="1024.8" y="1767.4" font-size="26.6" text-anchor="middle" font-style="italic" textLength="68.8" lengthAdjust="spacingAndGlyphs">pLKO</text>
<text x="1233.5" y="1767.4" font-size="26.6" text-anchor="middle" font-style="italic" textLength="100.0" lengthAdjust="spacingAndGlyphs">shSOX1</text>
<text x="1427.4" y="1767.4" font-size="26.6" text-anchor="middle" font-style="italic" textLength="101.3" lengthAdjust="spacingAndGlyphs">shSOX9</text>
</g>
<g id="ylabF">
<text font-size="26.4" transform="translate(829.5 1721.5) rotate(-90)">Number of 1</text>
<text font-size="16.5" transform="translate(821 1573.2) rotate(-90)">ry</text>
<text font-size="26.4" transform="translate(829.5 1544.4) rotate(-90)">spheres</text>
<text font-size="26.6" transform="translate(829.5 1441.5) rotate(-90)">(</text>
<text font-size="26.6" transform="translate(829.5 1432.5) rotate(-90)" textLength="26.0" lengthAdjust="spacingAndGlyphs">%</text>
<text font-size="26.6" transform="translate(829.5 1408.3) rotate(-90)">)</text>
</g>
</svg></body></html>
